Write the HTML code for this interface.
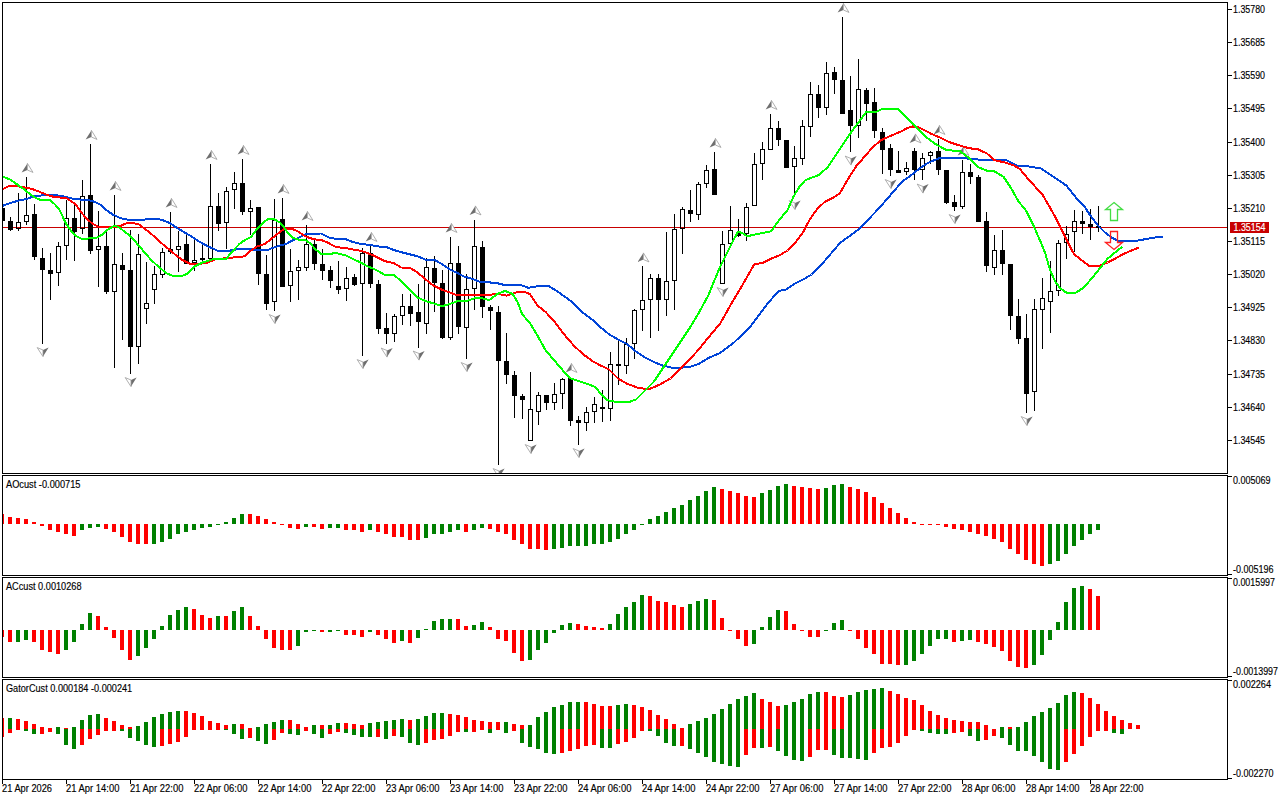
<!DOCTYPE html><html><head><meta charset="utf-8"><style>html,body{margin:0;padding:0;background:#fff;width:1280px;height:800px;overflow:hidden}svg{position:absolute;left:0;top:0}text{font-family:"Liberation Sans",sans-serif;font-size:10px;stroke-width:0.15px}</style></head><body>
<svg width="1280" height="800" viewBox="0 0 1280 800">
<rect x="0" y="0" width="1280" height="800" fill="#fff"/>
<defs><clipPath id="cm"><rect x="3" y="3" width="1224" height="470"/></clipPath><clipPath id="ca"><rect x="3" y="476" width="1224" height="99"/></clipPath><clipPath id="cc"><rect x="3" y="578" width="1224" height="99"/></clipPath><clipPath id="cg"><rect x="3" y="680" width="1224" height="99"/></clipPath></defs>
<g clip-path="url(#cm)">
<rect x="3" y="227" width="1224" height="1" fill="#C80000"/>
<g shape-rendering="crispEdges">
<rect x="2" y="200" width="1" height="8" fill="#000"/>
<rect x="2" y="221" width="1" height="4" fill="#000"/>
<rect x="0" y="208" width="5" height="13" fill="#000"/>
<rect x="10" y="217" width="1" height="4" fill="#000"/>
<rect x="10" y="230" width="1" height="1" fill="#000"/>
<rect x="8" y="221" width="5" height="9" fill="#000"/>
<rect x="18" y="193" width="1" height="29" fill="#000"/>
<rect x="18" y="229" width="1" height="2" fill="#000"/>
<rect x="16" y="222" width="5" height="1" fill="#000"/>
<rect x="16" y="228" width="5" height="1" fill="#000"/>
<rect x="16" y="222" width="1" height="7" fill="#000"/>
<rect x="20" y="222" width="1" height="7" fill="#000"/>
<rect x="26" y="177" width="1" height="38" fill="#000"/>
<rect x="26" y="222" width="1" height="3" fill="#000"/>
<rect x="24" y="215" width="5" height="1" fill="#000"/>
<rect x="24" y="221" width="5" height="1" fill="#000"/>
<rect x="24" y="215" width="1" height="7" fill="#000"/>
<rect x="28" y="215" width="1" height="7" fill="#000"/>
<rect x="34" y="204" width="1" height="10" fill="#000"/>
<rect x="34" y="257" width="1" height="3" fill="#000"/>
<rect x="32" y="214" width="5" height="43" fill="#000"/>
<rect x="42" y="248" width="1" height="10" fill="#000"/>
<rect x="42" y="270" width="1" height="74" fill="#000"/>
<rect x="40" y="258" width="5" height="12" fill="#000"/>
<rect x="50" y="253" width="1" height="17" fill="#000"/>
<rect x="50" y="274" width="1" height="26" fill="#000"/>
<rect x="48" y="270" width="5" height="4" fill="#000"/>
<rect x="58" y="242" width="1" height="4" fill="#000"/>
<rect x="58" y="273" width="1" height="13" fill="#000"/>
<rect x="56" y="246" width="5" height="1" fill="#000"/>
<rect x="56" y="272" width="5" height="1" fill="#000"/>
<rect x="56" y="246" width="1" height="27" fill="#000"/>
<rect x="60" y="246" width="1" height="27" fill="#000"/>
<rect x="66" y="200" width="1" height="18" fill="#000"/>
<rect x="66" y="246" width="1" height="14" fill="#000"/>
<rect x="64" y="218" width="5" height="1" fill="#000"/>
<rect x="64" y="245" width="5" height="1" fill="#000"/>
<rect x="64" y="218" width="1" height="28" fill="#000"/>
<rect x="68" y="218" width="1" height="28" fill="#000"/>
<rect x="74" y="204" width="1" height="14" fill="#000"/>
<rect x="74" y="232" width="1" height="29" fill="#000"/>
<rect x="72" y="218" width="5" height="14" fill="#000"/>
<rect x="82" y="180" width="1" height="16" fill="#000"/>
<rect x="82" y="229" width="1" height="5" fill="#000"/>
<rect x="80" y="196" width="5" height="1" fill="#000"/>
<rect x="80" y="228" width="5" height="1" fill="#000"/>
<rect x="80" y="196" width="1" height="33" fill="#000"/>
<rect x="84" y="196" width="1" height="33" fill="#000"/>
<rect x="90" y="144" width="1" height="51" fill="#000"/>
<rect x="90" y="251" width="1" height="3" fill="#000"/>
<rect x="88" y="195" width="5" height="56" fill="#000"/>
<rect x="98" y="211" width="1" height="35" fill="#000"/>
<rect x="98" y="250" width="1" height="37" fill="#000"/>
<rect x="96" y="246" width="5" height="1" fill="#000"/>
<rect x="96" y="249" width="5" height="1" fill="#000"/>
<rect x="96" y="246" width="1" height="4" fill="#000"/>
<rect x="100" y="246" width="1" height="4" fill="#000"/>
<rect x="106" y="232" width="1" height="14" fill="#000"/>
<rect x="106" y="292" width="1" height="2" fill="#000"/>
<rect x="104" y="246" width="5" height="46" fill="#000"/>
<rect x="114" y="195" width="1" height="69" fill="#000"/>
<rect x="114" y="292" width="1" height="76" fill="#000"/>
<rect x="112" y="264" width="5" height="1" fill="#000"/>
<rect x="112" y="291" width="5" height="1" fill="#000"/>
<rect x="112" y="264" width="1" height="28" fill="#000"/>
<rect x="116" y="264" width="1" height="28" fill="#000"/>
<rect x="122" y="253" width="1" height="12" fill="#000"/>
<rect x="122" y="270" width="1" height="70" fill="#000"/>
<rect x="120" y="265" width="5" height="5" fill="#000"/>
<rect x="130" y="230" width="1" height="40" fill="#000"/>
<rect x="130" y="347" width="1" height="27" fill="#000"/>
<rect x="128" y="270" width="5" height="77" fill="#000"/>
<rect x="138" y="234" width="1" height="20" fill="#000"/>
<rect x="138" y="347" width="1" height="17" fill="#000"/>
<rect x="136" y="254" width="5" height="1" fill="#000"/>
<rect x="136" y="346" width="5" height="1" fill="#000"/>
<rect x="136" y="254" width="1" height="93" fill="#000"/>
<rect x="140" y="254" width="1" height="93" fill="#000"/>
<rect x="146" y="262" width="1" height="41" fill="#000"/>
<rect x="146" y="309" width="1" height="15" fill="#000"/>
<rect x="144" y="303" width="5" height="1" fill="#000"/>
<rect x="144" y="308" width="5" height="1" fill="#000"/>
<rect x="144" y="303" width="1" height="6" fill="#000"/>
<rect x="148" y="303" width="1" height="6" fill="#000"/>
<rect x="154" y="266" width="1" height="8" fill="#000"/>
<rect x="154" y="290" width="1" height="14" fill="#000"/>
<rect x="152" y="274" width="5" height="1" fill="#000"/>
<rect x="152" y="289" width="5" height="1" fill="#000"/>
<rect x="152" y="274" width="1" height="16" fill="#000"/>
<rect x="156" y="274" width="1" height="16" fill="#000"/>
<rect x="162" y="248" width="1" height="4" fill="#000"/>
<rect x="162" y="275" width="1" height="3" fill="#000"/>
<rect x="160" y="252" width="5" height="1" fill="#000"/>
<rect x="160" y="274" width="5" height="1" fill="#000"/>
<rect x="160" y="252" width="1" height="23" fill="#000"/>
<rect x="164" y="252" width="1" height="23" fill="#000"/>
<rect x="170" y="212" width="1" height="37" fill="#000"/>
<rect x="170" y="252" width="1" height="2" fill="#000"/>
<rect x="168" y="249" width="5" height="1" fill="#000"/>
<rect x="168" y="251" width="5" height="1" fill="#000"/>
<rect x="168" y="249" width="1" height="3" fill="#000"/>
<rect x="172" y="249" width="1" height="3" fill="#000"/>
<rect x="178" y="231" width="1" height="15" fill="#000"/>
<rect x="178" y="250" width="1" height="22" fill="#000"/>
<rect x="176" y="246" width="5" height="1" fill="#000"/>
<rect x="176" y="249" width="5" height="1" fill="#000"/>
<rect x="176" y="246" width="1" height="4" fill="#000"/>
<rect x="180" y="246" width="1" height="4" fill="#000"/>
<rect x="186" y="235" width="1" height="9" fill="#000"/>
<rect x="184" y="244" width="5" height="20" fill="#000"/>
<rect x="194" y="240" width="1" height="20" fill="#000"/>
<rect x="194" y="263" width="1" height="8" fill="#000"/>
<rect x="192" y="260" width="5" height="1" fill="#000"/>
<rect x="192" y="262" width="5" height="1" fill="#000"/>
<rect x="192" y="260" width="1" height="3" fill="#000"/>
<rect x="196" y="260" width="1" height="3" fill="#000"/>
<rect x="202" y="245" width="1" height="13" fill="#000"/>
<rect x="202" y="260" width="1" height="2" fill="#000"/>
<rect x="200" y="258" width="5" height="2" fill="#000"/>
<rect x="210" y="164" width="1" height="42" fill="#000"/>
<rect x="210" y="259" width="1" height="3" fill="#000"/>
<rect x="208" y="206" width="5" height="1" fill="#000"/>
<rect x="208" y="258" width="5" height="1" fill="#000"/>
<rect x="208" y="206" width="1" height="53" fill="#000"/>
<rect x="212" y="206" width="1" height="53" fill="#000"/>
<rect x="218" y="193" width="1" height="13" fill="#000"/>
<rect x="218" y="224" width="1" height="7" fill="#000"/>
<rect x="216" y="206" width="5" height="18" fill="#000"/>
<rect x="226" y="187" width="1" height="4" fill="#000"/>
<rect x="226" y="223" width="1" height="26" fill="#000"/>
<rect x="224" y="191" width="5" height="1" fill="#000"/>
<rect x="224" y="222" width="5" height="1" fill="#000"/>
<rect x="224" y="191" width="1" height="32" fill="#000"/>
<rect x="228" y="191" width="1" height="32" fill="#000"/>
<rect x="234" y="172" width="1" height="11" fill="#000"/>
<rect x="234" y="190" width="1" height="19" fill="#000"/>
<rect x="232" y="183" width="5" height="1" fill="#000"/>
<rect x="232" y="189" width="5" height="1" fill="#000"/>
<rect x="232" y="183" width="1" height="7" fill="#000"/>
<rect x="236" y="183" width="1" height="7" fill="#000"/>
<rect x="242" y="159" width="1" height="24" fill="#000"/>
<rect x="242" y="212" width="1" height="3" fill="#000"/>
<rect x="240" y="183" width="5" height="29" fill="#000"/>
<rect x="250" y="200" width="1" height="8" fill="#000"/>
<rect x="250" y="212" width="1" height="23" fill="#000"/>
<rect x="248" y="208" width="5" height="1" fill="#000"/>
<rect x="248" y="211" width="5" height="1" fill="#000"/>
<rect x="248" y="208" width="1" height="4" fill="#000"/>
<rect x="252" y="208" width="1" height="4" fill="#000"/>
<rect x="258" y="274" width="1" height="11" fill="#000"/>
<rect x="256" y="207" width="5" height="67" fill="#000"/>
<rect x="266" y="255" width="1" height="19" fill="#000"/>
<rect x="266" y="304" width="1" height="6" fill="#000"/>
<rect x="264" y="274" width="5" height="30" fill="#000"/>
<rect x="274" y="199" width="1" height="21" fill="#000"/>
<rect x="274" y="302" width="1" height="9" fill="#000"/>
<rect x="272" y="220" width="5" height="1" fill="#000"/>
<rect x="272" y="301" width="5" height="1" fill="#000"/>
<rect x="272" y="220" width="1" height="82" fill="#000"/>
<rect x="276" y="220" width="1" height="82" fill="#000"/>
<rect x="282" y="198" width="1" height="21" fill="#000"/>
<rect x="280" y="219" width="5" height="68" fill="#000"/>
<rect x="290" y="249" width="1" height="22" fill="#000"/>
<rect x="290" y="286" width="1" height="16" fill="#000"/>
<rect x="288" y="271" width="5" height="1" fill="#000"/>
<rect x="288" y="285" width="5" height="1" fill="#000"/>
<rect x="288" y="271" width="1" height="15" fill="#000"/>
<rect x="292" y="271" width="1" height="15" fill="#000"/>
<rect x="298" y="260" width="1" height="7" fill="#000"/>
<rect x="298" y="271" width="1" height="29" fill="#000"/>
<rect x="296" y="267" width="5" height="1" fill="#000"/>
<rect x="296" y="270" width="5" height="1" fill="#000"/>
<rect x="296" y="267" width="1" height="4" fill="#000"/>
<rect x="300" y="267" width="1" height="4" fill="#000"/>
<rect x="306" y="225" width="1" height="19" fill="#000"/>
<rect x="306" y="268" width="1" height="3" fill="#000"/>
<rect x="304" y="244" width="5" height="1" fill="#000"/>
<rect x="304" y="267" width="5" height="1" fill="#000"/>
<rect x="304" y="244" width="1" height="24" fill="#000"/>
<rect x="308" y="244" width="1" height="24" fill="#000"/>
<rect x="314" y="240" width="1" height="4" fill="#000"/>
<rect x="314" y="264" width="1" height="6" fill="#000"/>
<rect x="312" y="244" width="5" height="20" fill="#000"/>
<rect x="322" y="249" width="1" height="15" fill="#000"/>
<rect x="322" y="271" width="1" height="9" fill="#000"/>
<rect x="320" y="264" width="5" height="7" fill="#000"/>
<rect x="330" y="266" width="1" height="4" fill="#000"/>
<rect x="330" y="281" width="1" height="7" fill="#000"/>
<rect x="328" y="270" width="5" height="11" fill="#000"/>
<rect x="338" y="261" width="1" height="25" fill="#000"/>
<rect x="338" y="290" width="1" height="4" fill="#000"/>
<rect x="336" y="286" width="5" height="4" fill="#000"/>
<rect x="346" y="267" width="1" height="11" fill="#000"/>
<rect x="346" y="289" width="1" height="12" fill="#000"/>
<rect x="344" y="278" width="5" height="1" fill="#000"/>
<rect x="344" y="288" width="5" height="1" fill="#000"/>
<rect x="344" y="278" width="1" height="11" fill="#000"/>
<rect x="348" y="278" width="1" height="11" fill="#000"/>
<rect x="354" y="274" width="1" height="3" fill="#000"/>
<rect x="354" y="285" width="1" height="1" fill="#000"/>
<rect x="352" y="277" width="5" height="8" fill="#000"/>
<rect x="362" y="248" width="1" height="5" fill="#000"/>
<rect x="362" y="284" width="1" height="72" fill="#000"/>
<rect x="360" y="253" width="5" height="1" fill="#000"/>
<rect x="360" y="283" width="5" height="1" fill="#000"/>
<rect x="360" y="253" width="1" height="31" fill="#000"/>
<rect x="364" y="253" width="1" height="31" fill="#000"/>
<rect x="370" y="246" width="1" height="7" fill="#000"/>
<rect x="370" y="284" width="1" height="4" fill="#000"/>
<rect x="368" y="253" width="5" height="31" fill="#000"/>
<rect x="378" y="280" width="1" height="4" fill="#000"/>
<rect x="378" y="329" width="1" height="5" fill="#000"/>
<rect x="376" y="284" width="5" height="45" fill="#000"/>
<rect x="386" y="313" width="1" height="15" fill="#000"/>
<rect x="386" y="334" width="1" height="10" fill="#000"/>
<rect x="384" y="328" width="5" height="6" fill="#000"/>
<rect x="394" y="314" width="1" height="2" fill="#000"/>
<rect x="394" y="334" width="1" height="8" fill="#000"/>
<rect x="392" y="316" width="5" height="1" fill="#000"/>
<rect x="392" y="333" width="5" height="1" fill="#000"/>
<rect x="392" y="316" width="1" height="18" fill="#000"/>
<rect x="396" y="316" width="1" height="18" fill="#000"/>
<rect x="402" y="294" width="1" height="12" fill="#000"/>
<rect x="402" y="316" width="1" height="9" fill="#000"/>
<rect x="400" y="306" width="5" height="1" fill="#000"/>
<rect x="400" y="315" width="5" height="1" fill="#000"/>
<rect x="400" y="306" width="1" height="10" fill="#000"/>
<rect x="404" y="306" width="1" height="10" fill="#000"/>
<rect x="410" y="294" width="1" height="12" fill="#000"/>
<rect x="410" y="314" width="1" height="12" fill="#000"/>
<rect x="408" y="306" width="5" height="8" fill="#000"/>
<rect x="418" y="284" width="1" height="28" fill="#000"/>
<rect x="418" y="322" width="1" height="26" fill="#000"/>
<rect x="416" y="312" width="5" height="10" fill="#000"/>
<rect x="426" y="258" width="1" height="9" fill="#000"/>
<rect x="426" y="324" width="1" height="10" fill="#000"/>
<rect x="424" y="267" width="5" height="1" fill="#000"/>
<rect x="424" y="323" width="5" height="1" fill="#000"/>
<rect x="424" y="267" width="1" height="57" fill="#000"/>
<rect x="428" y="267" width="1" height="57" fill="#000"/>
<rect x="434" y="256" width="1" height="12" fill="#000"/>
<rect x="434" y="283" width="1" height="29" fill="#000"/>
<rect x="432" y="268" width="5" height="15" fill="#000"/>
<rect x="442" y="270" width="1" height="13" fill="#000"/>
<rect x="442" y="338" width="1" height="1" fill="#000"/>
<rect x="440" y="283" width="5" height="55" fill="#000"/>
<rect x="450" y="237" width="1" height="26" fill="#000"/>
<rect x="450" y="338" width="1" height="2" fill="#000"/>
<rect x="448" y="263" width="5" height="1" fill="#000"/>
<rect x="448" y="337" width="5" height="1" fill="#000"/>
<rect x="448" y="263" width="1" height="75" fill="#000"/>
<rect x="452" y="263" width="1" height="75" fill="#000"/>
<rect x="458" y="246" width="1" height="17" fill="#000"/>
<rect x="458" y="327" width="1" height="7" fill="#000"/>
<rect x="456" y="263" width="5" height="64" fill="#000"/>
<rect x="466" y="274" width="1" height="15" fill="#000"/>
<rect x="466" y="328" width="1" height="31" fill="#000"/>
<rect x="464" y="289" width="5" height="1" fill="#000"/>
<rect x="464" y="327" width="5" height="1" fill="#000"/>
<rect x="464" y="289" width="1" height="39" fill="#000"/>
<rect x="468" y="289" width="1" height="39" fill="#000"/>
<rect x="474" y="220" width="1" height="26" fill="#000"/>
<rect x="474" y="289" width="1" height="21" fill="#000"/>
<rect x="472" y="246" width="5" height="1" fill="#000"/>
<rect x="472" y="288" width="5" height="1" fill="#000"/>
<rect x="472" y="246" width="1" height="43" fill="#000"/>
<rect x="476" y="246" width="1" height="43" fill="#000"/>
<rect x="482" y="241" width="1" height="6" fill="#000"/>
<rect x="482" y="307" width="1" height="11" fill="#000"/>
<rect x="480" y="247" width="5" height="60" fill="#000"/>
<rect x="490" y="305" width="1" height="2" fill="#000"/>
<rect x="490" y="311" width="1" height="19" fill="#000"/>
<rect x="488" y="307" width="5" height="4" fill="#000"/>
<rect x="498" y="306" width="1" height="6" fill="#000"/>
<rect x="498" y="361" width="1" height="104" fill="#000"/>
<rect x="496" y="312" width="5" height="49" fill="#000"/>
<rect x="506" y="333" width="1" height="28" fill="#000"/>
<rect x="506" y="375" width="1" height="9" fill="#000"/>
<rect x="504" y="361" width="5" height="14" fill="#000"/>
<rect x="514" y="371" width="1" height="4" fill="#000"/>
<rect x="514" y="396" width="1" height="22" fill="#000"/>
<rect x="512" y="375" width="5" height="21" fill="#000"/>
<rect x="522" y="394" width="1" height="2" fill="#000"/>
<rect x="522" y="400" width="1" height="19" fill="#000"/>
<rect x="520" y="396" width="5" height="4" fill="#000"/>
<rect x="530" y="372" width="1" height="37" fill="#000"/>
<rect x="528" y="409" width="5" height="1" fill="#000"/>
<rect x="528" y="440" width="5" height="1" fill="#000"/>
<rect x="528" y="409" width="1" height="32" fill="#000"/>
<rect x="532" y="409" width="1" height="32" fill="#000"/>
<rect x="538" y="392" width="1" height="3" fill="#000"/>
<rect x="538" y="412" width="1" height="13" fill="#000"/>
<rect x="536" y="395" width="5" height="1" fill="#000"/>
<rect x="536" y="411" width="5" height="1" fill="#000"/>
<rect x="536" y="395" width="1" height="17" fill="#000"/>
<rect x="540" y="395" width="1" height="17" fill="#000"/>
<rect x="546" y="403" width="1" height="7" fill="#000"/>
<rect x="544" y="395" width="5" height="8" fill="#000"/>
<rect x="554" y="383" width="1" height="11" fill="#000"/>
<rect x="554" y="403" width="1" height="7" fill="#000"/>
<rect x="552" y="394" width="5" height="1" fill="#000"/>
<rect x="552" y="402" width="5" height="1" fill="#000"/>
<rect x="552" y="394" width="1" height="9" fill="#000"/>
<rect x="556" y="394" width="1" height="9" fill="#000"/>
<rect x="562" y="378" width="1" height="1" fill="#000"/>
<rect x="562" y="394" width="1" height="15" fill="#000"/>
<rect x="560" y="379" width="5" height="1" fill="#000"/>
<rect x="560" y="393" width="5" height="1" fill="#000"/>
<rect x="560" y="379" width="1" height="15" fill="#000"/>
<rect x="564" y="379" width="1" height="15" fill="#000"/>
<rect x="570" y="377" width="1" height="1" fill="#000"/>
<rect x="570" y="421" width="1" height="5" fill="#000"/>
<rect x="568" y="378" width="5" height="43" fill="#000"/>
<rect x="578" y="416" width="1" height="4" fill="#000"/>
<rect x="578" y="423" width="1" height="22" fill="#000"/>
<rect x="576" y="420" width="5" height="3" fill="#000"/>
<rect x="586" y="407" width="1" height="5" fill="#000"/>
<rect x="586" y="423" width="1" height="8" fill="#000"/>
<rect x="584" y="412" width="5" height="1" fill="#000"/>
<rect x="584" y="422" width="5" height="1" fill="#000"/>
<rect x="584" y="412" width="1" height="11" fill="#000"/>
<rect x="588" y="412" width="1" height="11" fill="#000"/>
<rect x="594" y="397" width="1" height="7" fill="#000"/>
<rect x="594" y="412" width="1" height="11" fill="#000"/>
<rect x="592" y="404" width="5" height="1" fill="#000"/>
<rect x="592" y="411" width="5" height="1" fill="#000"/>
<rect x="592" y="404" width="1" height="8" fill="#000"/>
<rect x="596" y="404" width="1" height="8" fill="#000"/>
<rect x="602" y="390" width="1" height="17" fill="#000"/>
<rect x="602" y="409" width="1" height="13" fill="#000"/>
<rect x="600" y="407" width="5" height="2" fill="#000"/>
<rect x="610" y="352" width="1" height="12" fill="#000"/>
<rect x="610" y="409" width="1" height="12" fill="#000"/>
<rect x="608" y="364" width="5" height="1" fill="#000"/>
<rect x="608" y="408" width="5" height="1" fill="#000"/>
<rect x="608" y="364" width="1" height="45" fill="#000"/>
<rect x="612" y="364" width="1" height="45" fill="#000"/>
<rect x="618" y="340" width="1" height="24" fill="#000"/>
<rect x="618" y="366" width="1" height="19" fill="#000"/>
<rect x="616" y="364" width="5" height="2" fill="#000"/>
<rect x="626" y="338" width="1" height="6" fill="#000"/>
<rect x="626" y="366" width="1" height="8" fill="#000"/>
<rect x="624" y="344" width="5" height="1" fill="#000"/>
<rect x="624" y="365" width="5" height="1" fill="#000"/>
<rect x="624" y="344" width="1" height="22" fill="#000"/>
<rect x="628" y="344" width="1" height="22" fill="#000"/>
<rect x="634" y="309" width="1" height="1" fill="#000"/>
<rect x="634" y="344" width="1" height="15" fill="#000"/>
<rect x="632" y="310" width="5" height="1" fill="#000"/>
<rect x="632" y="343" width="5" height="1" fill="#000"/>
<rect x="632" y="310" width="1" height="34" fill="#000"/>
<rect x="636" y="310" width="1" height="34" fill="#000"/>
<rect x="642" y="266" width="1" height="34" fill="#000"/>
<rect x="642" y="310" width="1" height="21" fill="#000"/>
<rect x="640" y="300" width="5" height="1" fill="#000"/>
<rect x="640" y="309" width="5" height="1" fill="#000"/>
<rect x="640" y="300" width="1" height="10" fill="#000"/>
<rect x="644" y="300" width="1" height="10" fill="#000"/>
<rect x="650" y="274" width="1" height="4" fill="#000"/>
<rect x="650" y="300" width="1" height="38" fill="#000"/>
<rect x="648" y="278" width="5" height="1" fill="#000"/>
<rect x="648" y="299" width="5" height="1" fill="#000"/>
<rect x="648" y="278" width="1" height="22" fill="#000"/>
<rect x="652" y="278" width="1" height="22" fill="#000"/>
<rect x="658" y="274" width="1" height="4" fill="#000"/>
<rect x="658" y="300" width="1" height="31" fill="#000"/>
<rect x="656" y="278" width="5" height="22" fill="#000"/>
<rect x="666" y="232" width="1" height="49" fill="#000"/>
<rect x="666" y="300" width="1" height="16" fill="#000"/>
<rect x="664" y="281" width="5" height="1" fill="#000"/>
<rect x="664" y="299" width="5" height="1" fill="#000"/>
<rect x="664" y="281" width="1" height="19" fill="#000"/>
<rect x="668" y="281" width="1" height="19" fill="#000"/>
<rect x="674" y="214" width="1" height="15" fill="#000"/>
<rect x="674" y="281" width="1" height="29" fill="#000"/>
<rect x="672" y="229" width="5" height="1" fill="#000"/>
<rect x="672" y="280" width="5" height="1" fill="#000"/>
<rect x="672" y="229" width="1" height="52" fill="#000"/>
<rect x="676" y="229" width="1" height="52" fill="#000"/>
<rect x="682" y="207" width="1" height="2" fill="#000"/>
<rect x="682" y="229" width="1" height="25" fill="#000"/>
<rect x="680" y="209" width="5" height="1" fill="#000"/>
<rect x="680" y="228" width="5" height="1" fill="#000"/>
<rect x="680" y="209" width="1" height="20" fill="#000"/>
<rect x="684" y="209" width="1" height="20" fill="#000"/>
<rect x="690" y="190" width="1" height="20" fill="#000"/>
<rect x="690" y="214" width="1" height="8" fill="#000"/>
<rect x="688" y="210" width="5" height="4" fill="#000"/>
<rect x="698" y="182" width="1" height="2" fill="#000"/>
<rect x="698" y="215" width="1" height="5" fill="#000"/>
<rect x="696" y="184" width="5" height="1" fill="#000"/>
<rect x="696" y="214" width="5" height="1" fill="#000"/>
<rect x="696" y="184" width="1" height="31" fill="#000"/>
<rect x="700" y="184" width="1" height="31" fill="#000"/>
<rect x="706" y="165" width="1" height="5" fill="#000"/>
<rect x="706" y="184" width="1" height="4" fill="#000"/>
<rect x="704" y="170" width="5" height="1" fill="#000"/>
<rect x="704" y="183" width="5" height="1" fill="#000"/>
<rect x="704" y="170" width="1" height="14" fill="#000"/>
<rect x="708" y="170" width="1" height="14" fill="#000"/>
<rect x="714" y="152" width="1" height="17" fill="#000"/>
<rect x="712" y="169" width="5" height="26" fill="#000"/>
<rect x="722" y="231" width="1" height="13" fill="#000"/>
<rect x="720" y="244" width="5" height="1" fill="#000"/>
<rect x="720" y="283" width="5" height="1" fill="#000"/>
<rect x="720" y="244" width="1" height="40" fill="#000"/>
<rect x="724" y="244" width="1" height="40" fill="#000"/>
<rect x="730" y="206" width="1" height="24" fill="#000"/>
<rect x="730" y="244" width="1" height="1" fill="#000"/>
<rect x="728" y="230" width="5" height="1" fill="#000"/>
<rect x="728" y="243" width="5" height="1" fill="#000"/>
<rect x="728" y="230" width="1" height="14" fill="#000"/>
<rect x="732" y="230" width="1" height="14" fill="#000"/>
<rect x="738" y="219" width="1" height="13" fill="#000"/>
<rect x="738" y="236" width="1" height="1" fill="#000"/>
<rect x="736" y="232" width="5" height="4" fill="#000"/>
<rect x="746" y="203" width="1" height="4" fill="#000"/>
<rect x="746" y="234" width="1" height="7" fill="#000"/>
<rect x="744" y="207" width="5" height="1" fill="#000"/>
<rect x="744" y="233" width="5" height="1" fill="#000"/>
<rect x="744" y="207" width="1" height="27" fill="#000"/>
<rect x="748" y="207" width="1" height="27" fill="#000"/>
<rect x="754" y="153" width="1" height="11" fill="#000"/>
<rect x="752" y="164" width="5" height="1" fill="#000"/>
<rect x="752" y="205" width="5" height="1" fill="#000"/>
<rect x="752" y="164" width="1" height="42" fill="#000"/>
<rect x="756" y="164" width="1" height="42" fill="#000"/>
<rect x="762" y="142" width="1" height="7" fill="#000"/>
<rect x="762" y="164" width="1" height="16" fill="#000"/>
<rect x="760" y="149" width="5" height="1" fill="#000"/>
<rect x="760" y="163" width="5" height="1" fill="#000"/>
<rect x="760" y="149" width="1" height="15" fill="#000"/>
<rect x="764" y="149" width="1" height="15" fill="#000"/>
<rect x="770" y="114" width="1" height="14" fill="#000"/>
<rect x="768" y="128" width="5" height="1" fill="#000"/>
<rect x="768" y="149" width="5" height="1" fill="#000"/>
<rect x="768" y="128" width="1" height="22" fill="#000"/>
<rect x="772" y="128" width="1" height="22" fill="#000"/>
<rect x="778" y="121" width="1" height="7" fill="#000"/>
<rect x="778" y="140" width="1" height="6" fill="#000"/>
<rect x="776" y="128" width="5" height="12" fill="#000"/>
<rect x="784" y="140" width="5" height="28" fill="#000"/>
<rect x="794" y="146" width="1" height="12" fill="#000"/>
<rect x="794" y="167" width="1" height="30" fill="#000"/>
<rect x="792" y="158" width="5" height="1" fill="#000"/>
<rect x="792" y="166" width="5" height="1" fill="#000"/>
<rect x="792" y="158" width="1" height="9" fill="#000"/>
<rect x="796" y="158" width="1" height="9" fill="#000"/>
<rect x="802" y="120" width="1" height="6" fill="#000"/>
<rect x="802" y="159" width="1" height="6" fill="#000"/>
<rect x="800" y="126" width="5" height="1" fill="#000"/>
<rect x="800" y="158" width="5" height="1" fill="#000"/>
<rect x="800" y="126" width="1" height="33" fill="#000"/>
<rect x="804" y="126" width="1" height="33" fill="#000"/>
<rect x="810" y="82" width="1" height="12" fill="#000"/>
<rect x="810" y="127" width="1" height="10" fill="#000"/>
<rect x="808" y="94" width="5" height="1" fill="#000"/>
<rect x="808" y="126" width="5" height="1" fill="#000"/>
<rect x="808" y="94" width="1" height="33" fill="#000"/>
<rect x="812" y="94" width="1" height="33" fill="#000"/>
<rect x="818" y="85" width="1" height="9" fill="#000"/>
<rect x="818" y="108" width="1" height="10" fill="#000"/>
<rect x="816" y="94" width="5" height="14" fill="#000"/>
<rect x="826" y="62" width="1" height="11" fill="#000"/>
<rect x="826" y="108" width="1" height="7" fill="#000"/>
<rect x="824" y="73" width="5" height="1" fill="#000"/>
<rect x="824" y="107" width="5" height="1" fill="#000"/>
<rect x="824" y="73" width="1" height="35" fill="#000"/>
<rect x="828" y="73" width="1" height="35" fill="#000"/>
<rect x="834" y="67" width="1" height="5" fill="#000"/>
<rect x="834" y="80" width="1" height="14" fill="#000"/>
<rect x="832" y="72" width="5" height="8" fill="#000"/>
<rect x="842" y="17" width="1" height="63" fill="#000"/>
<rect x="840" y="80" width="5" height="34" fill="#000"/>
<rect x="850" y="76" width="1" height="34" fill="#000"/>
<rect x="850" y="126" width="1" height="26" fill="#000"/>
<rect x="848" y="110" width="5" height="16" fill="#000"/>
<rect x="858" y="59" width="1" height="30" fill="#000"/>
<rect x="858" y="126" width="1" height="12" fill="#000"/>
<rect x="856" y="89" width="5" height="1" fill="#000"/>
<rect x="856" y="125" width="5" height="1" fill="#000"/>
<rect x="856" y="89" width="1" height="37" fill="#000"/>
<rect x="860" y="89" width="1" height="37" fill="#000"/>
<rect x="866" y="88" width="1" height="2" fill="#000"/>
<rect x="866" y="104" width="1" height="17" fill="#000"/>
<rect x="864" y="90" width="5" height="14" fill="#000"/>
<rect x="874" y="88" width="1" height="14" fill="#000"/>
<rect x="874" y="131" width="1" height="7" fill="#000"/>
<rect x="872" y="102" width="5" height="29" fill="#000"/>
<rect x="882" y="128" width="1" height="4" fill="#000"/>
<rect x="882" y="150" width="1" height="24" fill="#000"/>
<rect x="880" y="132" width="5" height="18" fill="#000"/>
<rect x="890" y="144" width="1" height="4" fill="#000"/>
<rect x="890" y="170" width="1" height="6" fill="#000"/>
<rect x="888" y="148" width="5" height="22" fill="#000"/>
<rect x="898" y="151" width="1" height="19" fill="#000"/>
<rect x="896" y="170" width="5" height="3" fill="#000"/>
<rect x="906" y="162" width="1" height="6" fill="#000"/>
<rect x="906" y="172" width="1" height="3" fill="#000"/>
<rect x="904" y="168" width="5" height="1" fill="#000"/>
<rect x="904" y="171" width="5" height="1" fill="#000"/>
<rect x="904" y="168" width="1" height="4" fill="#000"/>
<rect x="908" y="168" width="1" height="4" fill="#000"/>
<rect x="914" y="148" width="1" height="3" fill="#000"/>
<rect x="914" y="170" width="1" height="10" fill="#000"/>
<rect x="912" y="151" width="5" height="19" fill="#000"/>
<rect x="922" y="153" width="1" height="5" fill="#000"/>
<rect x="922" y="170" width="1" height="10" fill="#000"/>
<rect x="920" y="158" width="5" height="1" fill="#000"/>
<rect x="920" y="169" width="5" height="1" fill="#000"/>
<rect x="920" y="158" width="1" height="12" fill="#000"/>
<rect x="924" y="158" width="1" height="12" fill="#000"/>
<rect x="930" y="151" width="1" height="1" fill="#000"/>
<rect x="930" y="156" width="1" height="8" fill="#000"/>
<rect x="928" y="152" width="5" height="1" fill="#000"/>
<rect x="928" y="155" width="5" height="1" fill="#000"/>
<rect x="928" y="152" width="1" height="4" fill="#000"/>
<rect x="932" y="152" width="1" height="4" fill="#000"/>
<rect x="938" y="139" width="1" height="12" fill="#000"/>
<rect x="938" y="170" width="1" height="5" fill="#000"/>
<rect x="936" y="151" width="5" height="19" fill="#000"/>
<rect x="946" y="203" width="1" height="1" fill="#000"/>
<rect x="944" y="170" width="5" height="33" fill="#000"/>
<rect x="954" y="195" width="1" height="7" fill="#000"/>
<rect x="954" y="207" width="1" height="4" fill="#000"/>
<rect x="952" y="202" width="5" height="5" fill="#000"/>
<rect x="962" y="160" width="1" height="12" fill="#000"/>
<rect x="962" y="207" width="1" height="2" fill="#000"/>
<rect x="960" y="172" width="5" height="1" fill="#000"/>
<rect x="960" y="206" width="5" height="1" fill="#000"/>
<rect x="960" y="172" width="1" height="35" fill="#000"/>
<rect x="964" y="172" width="1" height="35" fill="#000"/>
<rect x="970" y="164" width="1" height="8" fill="#000"/>
<rect x="970" y="177" width="1" height="7" fill="#000"/>
<rect x="968" y="172" width="5" height="5" fill="#000"/>
<rect x="978" y="175" width="1" height="2" fill="#000"/>
<rect x="976" y="177" width="5" height="45" fill="#000"/>
<rect x="986" y="212" width="1" height="9" fill="#000"/>
<rect x="986" y="266" width="1" height="6" fill="#000"/>
<rect x="984" y="221" width="5" height="45" fill="#000"/>
<rect x="994" y="235" width="1" height="15" fill="#000"/>
<rect x="994" y="268" width="1" height="7" fill="#000"/>
<rect x="992" y="250" width="5" height="1" fill="#000"/>
<rect x="992" y="267" width="5" height="1" fill="#000"/>
<rect x="992" y="250" width="1" height="18" fill="#000"/>
<rect x="996" y="250" width="1" height="18" fill="#000"/>
<rect x="1002" y="230" width="1" height="20" fill="#000"/>
<rect x="1002" y="264" width="1" height="11" fill="#000"/>
<rect x="1000" y="250" width="5" height="14" fill="#000"/>
<rect x="1010" y="316" width="1" height="14" fill="#000"/>
<rect x="1008" y="264" width="5" height="52" fill="#000"/>
<rect x="1018" y="299" width="1" height="17" fill="#000"/>
<rect x="1018" y="339" width="1" height="5" fill="#000"/>
<rect x="1016" y="316" width="5" height="23" fill="#000"/>
<rect x="1026" y="314" width="1" height="24" fill="#000"/>
<rect x="1026" y="394" width="1" height="19" fill="#000"/>
<rect x="1024" y="338" width="5" height="56" fill="#000"/>
<rect x="1034" y="299" width="1" height="10" fill="#000"/>
<rect x="1034" y="392" width="1" height="19" fill="#000"/>
<rect x="1032" y="309" width="5" height="1" fill="#000"/>
<rect x="1032" y="391" width="5" height="1" fill="#000"/>
<rect x="1032" y="309" width="1" height="83" fill="#000"/>
<rect x="1036" y="309" width="1" height="83" fill="#000"/>
<rect x="1042" y="278" width="1" height="20" fill="#000"/>
<rect x="1042" y="310" width="1" height="39" fill="#000"/>
<rect x="1040" y="298" width="5" height="1" fill="#000"/>
<rect x="1040" y="309" width="5" height="1" fill="#000"/>
<rect x="1040" y="298" width="1" height="12" fill="#000"/>
<rect x="1044" y="298" width="1" height="12" fill="#000"/>
<rect x="1050" y="261" width="1" height="30" fill="#000"/>
<rect x="1050" y="302" width="1" height="31" fill="#000"/>
<rect x="1048" y="291" width="5" height="1" fill="#000"/>
<rect x="1048" y="301" width="5" height="1" fill="#000"/>
<rect x="1048" y="291" width="1" height="11" fill="#000"/>
<rect x="1052" y="291" width="1" height="11" fill="#000"/>
<rect x="1058" y="240" width="1" height="3" fill="#000"/>
<rect x="1058" y="291" width="1" height="5" fill="#000"/>
<rect x="1056" y="243" width="5" height="1" fill="#000"/>
<rect x="1056" y="290" width="5" height="1" fill="#000"/>
<rect x="1056" y="243" width="1" height="48" fill="#000"/>
<rect x="1060" y="243" width="1" height="48" fill="#000"/>
<rect x="1066" y="226" width="1" height="8" fill="#000"/>
<rect x="1066" y="243" width="1" height="16" fill="#000"/>
<rect x="1064" y="234" width="5" height="1" fill="#000"/>
<rect x="1064" y="242" width="5" height="1" fill="#000"/>
<rect x="1064" y="234" width="1" height="9" fill="#000"/>
<rect x="1068" y="234" width="1" height="9" fill="#000"/>
<rect x="1074" y="210" width="1" height="11" fill="#000"/>
<rect x="1074" y="232" width="1" height="20" fill="#000"/>
<rect x="1072" y="221" width="5" height="1" fill="#000"/>
<rect x="1072" y="231" width="5" height="1" fill="#000"/>
<rect x="1072" y="221" width="1" height="11" fill="#000"/>
<rect x="1076" y="221" width="1" height="11" fill="#000"/>
<rect x="1082" y="211" width="1" height="10" fill="#000"/>
<rect x="1082" y="224" width="1" height="10" fill="#000"/>
<rect x="1080" y="221" width="5" height="3" fill="#000"/>
<rect x="1090" y="209" width="1" height="15" fill="#000"/>
<rect x="1090" y="227" width="1" height="13" fill="#000"/>
<rect x="1088" y="224" width="5" height="3" fill="#000"/>
<rect x="1098" y="206" width="1" height="20" fill="#000"/>
<rect x="1098" y="228" width="1" height="4" fill="#000"/>
<rect x="1096" y="226" width="5" height="2" fill="#000"/>
</g>
<polygon points="27.4,163.4 21.6,172.4 27.4,170.0" fill="#6e6e6e"/><polygon points="27.4,163.4 33.0,172.4 27.4,170.0" fill="#fff" stroke="#9a9a9a" stroke-width="0.8"/>
<polygon points="91.4,130.4 85.6,139.4 91.4,137.0" fill="#6e6e6e"/><polygon points="91.4,130.4 97.0,139.4 91.4,137.0" fill="#fff" stroke="#9a9a9a" stroke-width="0.8"/>
<polygon points="115.4,181.4 109.6,190.4 115.4,188.0" fill="#6e6e6e"/><polygon points="115.4,181.4 121.0,190.4 115.4,188.0" fill="#fff" stroke="#9a9a9a" stroke-width="0.8"/>
<polygon points="171.4,198.4 165.6,207.4 171.4,205.0" fill="#6e6e6e"/><polygon points="171.4,198.4 177.0,207.4 171.4,205.0" fill="#fff" stroke="#9a9a9a" stroke-width="0.8"/>
<polygon points="211.4,150.4 205.6,159.4 211.4,157.0" fill="#6e6e6e"/><polygon points="211.4,150.4 217.0,159.4 211.4,157.0" fill="#fff" stroke="#9a9a9a" stroke-width="0.8"/>
<polygon points="243.4,145.4 237.6,154.4 243.4,152.0" fill="#6e6e6e"/><polygon points="243.4,145.4 249.0,154.4 243.4,152.0" fill="#fff" stroke="#9a9a9a" stroke-width="0.8"/>
<polygon points="283.4,184.4 277.6,193.4 283.4,191.0" fill="#6e6e6e"/><polygon points="283.4,184.4 289.0,193.4 283.4,191.0" fill="#fff" stroke="#9a9a9a" stroke-width="0.8"/>
<polygon points="307.4,211.4 301.6,220.4 307.4,218.0" fill="#6e6e6e"/><polygon points="307.4,211.4 313.0,220.4 307.4,218.0" fill="#fff" stroke="#9a9a9a" stroke-width="0.8"/>
<polygon points="371.4,232.4 365.6,241.4 371.4,239.0" fill="#6e6e6e"/><polygon points="371.4,232.4 377.0,241.4 371.4,239.0" fill="#fff" stroke="#9a9a9a" stroke-width="0.8"/>
<polygon points="451.4,223.4 445.6,232.4 451.4,230.0" fill="#6e6e6e"/><polygon points="451.4,223.4 457.0,232.4 451.4,230.0" fill="#fff" stroke="#9a9a9a" stroke-width="0.8"/>
<polygon points="475.4,205.9 469.6,214.9 475.4,212.5" fill="#6e6e6e"/><polygon points="475.4,205.9 481.0,214.9 475.4,212.5" fill="#fff" stroke="#9a9a9a" stroke-width="0.8"/>
<polygon points="571.4,363.4 565.6,372.4 571.4,370.0" fill="#6e6e6e"/><polygon points="571.4,363.4 577.0,372.4 571.4,370.0" fill="#fff" stroke="#9a9a9a" stroke-width="0.8"/>
<polygon points="643.4,252.9 637.6,261.9 643.4,259.5" fill="#6e6e6e"/><polygon points="643.4,252.9 649.0,261.9 643.4,259.5" fill="#fff" stroke="#9a9a9a" stroke-width="0.8"/>
<polygon points="715.4,138.4 709.6,147.4 715.4,145.0" fill="#6e6e6e"/><polygon points="715.4,138.4 721.0,147.4 715.4,145.0" fill="#fff" stroke="#9a9a9a" stroke-width="0.8"/>
<polygon points="771.4,100.4 765.6,109.4 771.4,107.0" fill="#6e6e6e"/><polygon points="771.4,100.4 777.0,109.4 771.4,107.0" fill="#fff" stroke="#9a9a9a" stroke-width="0.8"/>
<polygon points="843.4,3.4 837.6,12.4 843.4,10.0" fill="#6e6e6e"/><polygon points="843.4,3.4 849.0,12.4 843.4,10.0" fill="#fff" stroke="#9a9a9a" stroke-width="0.8"/>
<polygon points="915.4,133.9 909.6,142.9 915.4,140.5" fill="#6e6e6e"/><polygon points="915.4,133.9 921.0,142.9 915.4,140.5" fill="#fff" stroke="#9a9a9a" stroke-width="0.8"/>
<polygon points="939.4,125.4 933.6,134.4 939.4,132.0" fill="#6e6e6e"/><polygon points="939.4,125.4 945.0,134.4 939.4,132.0" fill="#fff" stroke="#9a9a9a" stroke-width="0.8"/>
<polygon points="963.4,146.4 957.6,155.4 963.4,153.0" fill="#6e6e6e"/><polygon points="963.4,146.4 969.0,155.4 963.4,153.0" fill="#fff" stroke="#9a9a9a" stroke-width="0.8"/>
<polygon points="43.0,356.6 48.6,347.6 43.0,350.0" fill="#6e6e6e"/><polygon points="43.0,356.6 37.2,347.6 43.0,350.0" fill="#fff" stroke="#9a9a9a" stroke-width="0.8"/>
<polygon points="131.0,386.6 136.6,377.6 131.0,380.0" fill="#6e6e6e"/><polygon points="131.0,386.6 125.2,377.6 131.0,380.0" fill="#fff" stroke="#9a9a9a" stroke-width="0.8"/>
<polygon points="275.0,323.6 280.6,314.6 275.0,317.0" fill="#6e6e6e"/><polygon points="275.0,323.6 269.2,314.6 275.0,317.0" fill="#fff" stroke="#9a9a9a" stroke-width="0.8"/>
<polygon points="363.0,368.6 368.6,359.6 363.0,362.0" fill="#6e6e6e"/><polygon points="363.0,368.6 357.2,359.6 363.0,362.0" fill="#fff" stroke="#9a9a9a" stroke-width="0.8"/>
<polygon points="387.0,357.1 392.6,348.1 387.0,350.5" fill="#6e6e6e"/><polygon points="387.0,357.1 381.2,348.1 387.0,350.5" fill="#fff" stroke="#9a9a9a" stroke-width="0.8"/>
<polygon points="419.0,360.1 424.6,351.1 419.0,353.5" fill="#6e6e6e"/><polygon points="419.0,360.1 413.2,351.1 419.0,353.5" fill="#fff" stroke="#9a9a9a" stroke-width="0.8"/>
<polygon points="467.0,371.6 472.6,362.6 467.0,365.0" fill="#6e6e6e"/><polygon points="467.0,371.6 461.2,362.6 467.0,365.0" fill="#fff" stroke="#9a9a9a" stroke-width="0.8"/>
<polygon points="499.0,477.6 504.6,468.6 499.0,471.0" fill="#6e6e6e"/><polygon points="499.0,477.6 493.2,468.6 499.0,471.0" fill="#fff" stroke="#9a9a9a" stroke-width="0.8"/>
<polygon points="531.0,453.6 536.6,444.6 531.0,447.0" fill="#6e6e6e"/><polygon points="531.0,453.6 525.2,444.6 531.0,447.0" fill="#fff" stroke="#9a9a9a" stroke-width="0.8"/>
<polygon points="579.0,457.6 584.6,448.6 579.0,451.0" fill="#6e6e6e"/><polygon points="579.0,457.6 573.2,448.6 579.0,451.0" fill="#fff" stroke="#9a9a9a" stroke-width="0.8"/>
<polygon points="723.0,296.6 728.6,287.6 723.0,290.0" fill="#6e6e6e"/><polygon points="723.0,296.6 717.2,287.6 723.0,290.0" fill="#fff" stroke="#9a9a9a" stroke-width="0.8"/>
<polygon points="795.0,209.6 800.6,200.6 795.0,203.0" fill="#6e6e6e"/><polygon points="795.0,209.6 789.2,200.6 795.0,203.0" fill="#fff" stroke="#9a9a9a" stroke-width="0.8"/>
<polygon points="851.0,165.1 856.6,156.1 851.0,158.5" fill="#6e6e6e"/><polygon points="851.0,165.1 845.2,156.1 851.0,158.5" fill="#fff" stroke="#9a9a9a" stroke-width="0.8"/>
<polygon points="891.0,188.6 896.6,179.6 891.0,182.0" fill="#6e6e6e"/><polygon points="891.0,188.6 885.2,179.6 891.0,182.0" fill="#fff" stroke="#9a9a9a" stroke-width="0.8"/>
<polygon points="923.0,193.1 928.6,184.1 923.0,186.5" fill="#6e6e6e"/><polygon points="923.0,193.1 917.2,184.1 923.0,186.5" fill="#fff" stroke="#9a9a9a" stroke-width="0.8"/>
<polygon points="955.0,223.6 960.6,214.6 955.0,217.0" fill="#6e6e6e"/><polygon points="955.0,223.6 949.2,214.6 955.0,217.0" fill="#fff" stroke="#9a9a9a" stroke-width="0.8"/>
<polygon points="1027.0,425.6 1032.6,416.6 1027.0,419.0" fill="#6e6e6e"/><polygon points="1027.0,425.6 1021.2,416.6 1027.0,419.0" fill="#fff" stroke="#9a9a9a" stroke-width="0.8"/>
<polyline fill="none" stroke="#0044D8" stroke-width="2" stroke-linejoin="round" shape-rendering="crispEdges" points="3.1,205.6 10.0,203.1 18.8,200.6 27.5,198.8 33.8,196.2 40.0,195.6 47.5,195.0 55.0,195.0 62.5,196.2 70.0,198.1 77.5,199.4 87.5,199.8 95.0,201.9 100.0,204.4 106.2,210.0 112.5,214.4 120.0,218.1 126.2,219.4 132.5,220.2 141.2,220.2 148.8,218.8 157.5,218.8 163.8,220.6 170.0,223.1 176.2,227.5 182.5,231.2 190.0,235.6 197.5,240.6 207.5,246.2 217.5,250.6 230.0,250.6 240.0,248.8 250.0,249.0 255.0,250.0 267.5,250.0 273.8,247.5 280.0,245.6 286.2,243.8 292.5,240.6 298.8,237.5 306.2,233.8 321.2,233.5 330.0,238.1 337.5,238.8 346.2,239.4 352.5,241.9 360.0,243.8 370.0,245.0 378.8,246.5 386.2,246.9 393.8,250.0 401.2,252.2 410.0,254.4 417.5,256.2 426.2,260.0 435.0,260.2 442.5,264.4 450.0,269.4 457.5,273.1 465.0,276.9 472.5,278.8 480.0,281.9 495.6,282.8 503.4,284.7 520.6,285.0 528.4,287.8 539.4,285.9 548.8,286.2 556.6,290.9 564.4,296.4 573.8,303.4 583.1,312.8 592.5,319.8 600.0,326.9 609.0,334.2 618.0,339.5 627.0,344.0 636.0,351.5 645.0,357.5 654.0,362.0 663.0,365.7 672.0,367.7 681.0,367.7 690.0,366.8 699.0,363.8 708.0,358.2 720.0,353.0 734.3,342.2 750.0,327.1 765.8,305.8 778.5,291.0 786.0,289.5 795.0,283.5 804.0,279.0 811.5,274.5 822.0,264.0 831.0,253.5 840.0,243.0 859.4,228.8 880.0,207.2 893.8,191.2 902.5,181.2 910.0,176.2 917.5,170.0 927.5,163.1 940.0,157.8 960.0,157.8 978.0,159.5 1005.0,159.5 1017.0,165.5 1027.5,166.2 1041.0,168.5 1050.0,174.5 1059.0,180.5 1066.5,185.7 1078.8,201.2 1083.8,205.6 1090.0,215.0 1097.5,225.0 1105.0,232.5 1112.5,238.1 1117.5,240.6 1127.5,240.6 1137.5,240.6 1146.2,239.0 1155.0,237.5 1163.1,236.9"/>
<polyline fill="none" stroke="#FF0000" stroke-width="2" stroke-linejoin="round" shape-rendering="crispEdges" points="3.1,188.8 8.8,186.2 15.0,185.6 21.2,186.9 28.8,188.1 35.0,190.0 41.2,192.5 47.5,195.0 53.8,196.9 60.0,197.5 66.2,198.1 71.2,201.2 76.2,205.0 81.2,212.5 87.5,219.4 92.5,223.8 98.8,226.9 106.2,227.5 112.5,226.9 120.0,226.2 125.0,223.8 131.2,222.5 138.8,224.4 145.0,228.8 152.5,235.0 160.0,241.9 167.5,248.1 175.0,254.4 182.5,260.0 190.0,263.8 197.5,264.4 207.5,262.5 215.0,259.4 226.2,258.1 240.0,256.9 245.0,256.2 250.0,251.2 256.2,246.9 265.0,243.8 270.0,240.0 276.2,235.0 282.5,230.0 286.2,228.5 292.5,229.0 298.8,231.9 305.0,236.2 310.0,238.1 315.0,239.4 321.2,240.0 327.5,242.5 336.2,247.2 346.2,248.1 352.5,249.4 360.0,250.6 367.5,253.1 375.0,256.2 385.0,261.2 393.8,263.1 401.2,267.5 410.0,267.8 417.5,272.5 425.0,278.8 432.5,285.0 441.2,289.4 450.0,292.5 456.2,295.0 466.2,295.0 480.0,295.0 489.4,294.8 497.2,293.8 506.6,295.6 515.9,292.5 523.8,291.7 530.0,294.1 537.8,305.8 545.6,312.0 555.0,322.2 564.4,334.7 573.8,345.6 583.1,354.2 592.5,361.2 600.0,365.2 609.0,369.5 618.0,378.5 627.0,383.7 639.0,388.2 649.5,389.0 660.0,384.5 670.5,378.5 679.5,369.5 690.0,359.0 699.0,349.2 708.0,338.0 720.0,323.7 733.5,300.0 742.5,285.0 748.5,274.5 754.5,264.0 762.0,263.2 771.0,258.7 780.0,255.0 787.5,250.5 795.0,243.0 802.5,233.2 810.0,219.0 817.5,208.5 825.0,201.7 834.0,197.2 840.0,193.1 847.5,180.0 856.2,166.2 865.0,156.2 872.5,147.5 881.2,140.0 890.0,136.2 900.0,131.9 907.5,128.1 912.5,126.5 917.5,126.9 925.0,130.6 932.5,134.4 940.0,137.5 948.8,141.9 960.0,145.6 969.0,148.2 978.0,149.3 987.0,153.5 994.5,160.2 1005.0,162.5 1014.0,165.5 1020.0,169.2 1027.5,178.2 1035.0,186.5 1042.5,194.7 1050.0,207.5 1056.2,218.8 1061.2,228.8 1066.2,238.8 1071.2,248.8 1073.8,253.8 1081.2,260.0 1088.8,265.6 1100.0,265.6 1107.5,262.5 1115.0,258.8 1122.5,254.4 1130.0,251.2 1138.8,247.5"/>
<polyline fill="none" stroke="#00FF00" stroke-width="2" stroke-linejoin="round" shape-rendering="crispEdges" points="3.1,176.9 10.0,179.4 16.2,183.8 22.5,188.1 28.8,193.1 33.8,196.9 40.0,199.8 50.0,200.0 55.0,204.4 58.8,208.8 62.5,216.2 66.2,223.8 71.2,231.2 76.2,236.2 82.5,239.4 90.0,238.1 97.5,237.5 102.5,234.4 108.8,228.8 115.0,225.6 120.0,228.1 127.5,233.8 135.0,241.2 142.5,250.0 151.2,260.0 160.0,268.1 167.5,273.8 175.0,276.5 182.5,275.6 187.5,273.8 195.0,266.2 202.5,262.5 212.5,259.4 226.2,258.8 232.5,251.2 240.0,243.4 245.0,240.0 251.2,236.9 256.2,230.0 261.2,224.4 267.5,219.4 273.8,219.0 280.0,222.5 283.8,226.9 287.5,232.5 292.5,237.5 298.8,239.8 305.0,240.0 310.0,243.1 315.0,248.8 321.2,254.0 330.0,253.8 336.2,253.1 346.2,255.6 352.5,258.8 360.0,262.2 367.5,266.2 376.2,270.0 385.0,275.0 393.8,274.8 401.2,281.2 408.8,288.8 417.5,297.5 426.2,301.2 435.0,303.8 442.5,306.2 450.0,303.8 457.5,301.2 467.5,300.6 475.0,298.1 480.0,297.9 489.4,300.0 497.2,294.1 505.0,290.9 512.8,294.1 517.5,301.9 522.2,314.4 530.0,323.0 537.8,336.2 545.6,350.3 555.0,361.2 564.4,372.2 570.6,378.4 580.0,381.6 589.4,384.7 595.6,387.0 600.0,393.0 607.5,400.2 619.5,402.5 630.0,401.7 636.0,399.5 645.0,390.5 654.0,381.5 663.0,368.0 672.0,354.5 681.0,341.0 690.0,327.5 699.0,312.5 708.0,296.0 720.0,267.0 727.5,252.0 733.5,240.0 738.0,231.7 742.5,233.2 747.0,236.2 754.5,234.7 763.5,232.8 771.0,231.3 780.0,219.0 787.5,210.0 793.5,196.5 799.5,186.7 805.5,180.0 819.0,175.0 828.0,166.9 840.0,148.8 847.5,137.5 855.0,126.9 861.2,118.8 866.2,111.9 876.2,111.9 882.5,108.8 897.5,108.8 903.8,114.4 910.0,121.2 916.2,127.5 925.0,136.2 935.0,143.8 946.2,150.0 960.0,151.2 969.0,158.0 978.0,167.0 987.0,170.7 994.5,171.5 1003.5,176.7 1011.0,188.0 1018.5,201.5 1026.0,210.5 1033.5,225.5 1040.5,241.6 1045.0,252.5 1050.0,270.0 1055.0,281.2 1060.0,288.1 1066.2,292.5 1076.2,292.5 1083.8,287.5 1092.5,277.5 1100.0,268.1 1107.5,258.8 1115.0,252.5 1122.5,246.5"/>
<polygon points="1114,202.5 1122.5,209.5 1117.5,209.5 1117.5,220.5 1110.5,220.5 1110.5,209.5 1105.5,209.5" fill="none" stroke="#44DD44" stroke-width="1.3"/>
<polygon points="1114,249.5 1122.5,242.5 1117.5,242.5 1117.5,231.5 1110.5,231.5 1110.5,242.5 1105.5,242.5" fill="none" stroke="#FF2020" stroke-width="1.3"/>
</g>
<g shape-rendering="crispEdges">
<g clip-path="url(#ca)">
<rect x="0" y="514" width="4" height="10" fill="#FF0000"/>
<rect x="8" y="517" width="4" height="7" fill="#FF0000"/>
<rect x="16" y="518" width="4" height="6" fill="#FF0000"/>
<rect x="24" y="519" width="4" height="5" fill="#FF0000"/>
<rect x="32" y="522" width="4" height="2" fill="#FF0000"/>
<rect x="40" y="524" width="4" height="2" fill="#FF0000"/>
<rect x="48" y="524" width="4" height="6" fill="#FF0000"/>
<rect x="56" y="524" width="4" height="8" fill="#FF0000"/>
<rect x="64" y="524" width="4" height="10" fill="#FF0000"/>
<rect x="72" y="524" width="4" height="12" fill="#FF0000"/>
<rect x="80" y="524" width="4" height="6" fill="#008000"/>
<rect x="88" y="524" width="4" height="4" fill="#008000"/>
<rect x="96" y="524" width="4" height="3" fill="#008000"/>
<rect x="104" y="524" width="4" height="5" fill="#FF0000"/>
<rect x="112" y="524" width="4" height="8" fill="#FF0000"/>
<rect x="120" y="524" width="4" height="13" fill="#FF0000"/>
<rect x="128" y="524" width="4" height="18" fill="#FF0000"/>
<rect x="136" y="524" width="4" height="20" fill="#FF0000"/>
<rect x="144" y="524" width="4" height="20" fill="#FF0000"/>
<rect x="152" y="524" width="4" height="20" fill="#008000"/>
<rect x="160" y="524" width="4" height="18" fill="#008000"/>
<rect x="168" y="524" width="4" height="15" fill="#008000"/>
<rect x="176" y="524" width="4" height="10" fill="#008000"/>
<rect x="184" y="524" width="4" height="8" fill="#008000"/>
<rect x="192" y="524" width="4" height="6" fill="#008000"/>
<rect x="200" y="524" width="4" height="4" fill="#008000"/>
<rect x="208" y="524" width="4" height="3" fill="#008000"/>
<rect x="216" y="524" width="4" height="1" fill="#008000"/>
<rect x="224" y="522" width="4" height="2" fill="#008000"/>
<rect x="232" y="518" width="4" height="6" fill="#008000"/>
<rect x="240" y="514" width="4" height="10" fill="#008000"/>
<rect x="248" y="514" width="4" height="10" fill="#FF0000"/>
<rect x="256" y="516" width="4" height="8" fill="#FF0000"/>
<rect x="264" y="519" width="4" height="5" fill="#FF0000"/>
<rect x="272" y="522" width="4" height="2" fill="#FF0000"/>
<rect x="280" y="524" width="4" height="1" fill="#FF0000"/>
<rect x="288" y="524" width="4" height="4" fill="#FF0000"/>
<rect x="296" y="524" width="4" height="5" fill="#FF0000"/>
<rect x="304" y="524" width="4" height="3" fill="#008000"/>
<rect x="312" y="524" width="4" height="3" fill="#FF0000"/>
<rect x="320" y="524" width="4" height="5" fill="#FF0000"/>
<rect x="328" y="524" width="4" height="4" fill="#008000"/>
<rect x="336" y="524" width="4" height="4" fill="#008000"/>
<rect x="344" y="524" width="4" height="6" fill="#FF0000"/>
<rect x="352" y="524" width="4" height="6" fill="#FF0000"/>
<rect x="360" y="524" width="4" height="8" fill="#FF0000"/>
<rect x="368" y="524" width="4" height="6" fill="#008000"/>
<rect x="376" y="524" width="4" height="8" fill="#FF0000"/>
<rect x="384" y="524" width="4" height="10" fill="#FF0000"/>
<rect x="392" y="524" width="4" height="13" fill="#FF0000"/>
<rect x="400" y="524" width="4" height="13" fill="#FF0000"/>
<rect x="408" y="524" width="4" height="16" fill="#FF0000"/>
<rect x="416" y="524" width="4" height="16" fill="#FF0000"/>
<rect x="424" y="524" width="4" height="14" fill="#008000"/>
<rect x="432" y="524" width="4" height="10" fill="#008000"/>
<rect x="440" y="524" width="4" height="10" fill="#008000"/>
<rect x="448" y="524" width="4" height="8" fill="#008000"/>
<rect x="456" y="524" width="4" height="6" fill="#008000"/>
<rect x="464" y="524" width="4" height="8" fill="#FF0000"/>
<rect x="472" y="524" width="4" height="6" fill="#008000"/>
<rect x="480" y="524" width="4" height="4" fill="#008000"/>
<rect x="488" y="524" width="4" height="5" fill="#FF0000"/>
<rect x="496" y="524" width="4" height="8" fill="#FF0000"/>
<rect x="504" y="524" width="4" height="10" fill="#FF0000"/>
<rect x="512" y="524" width="4" height="16" fill="#FF0000"/>
<rect x="520" y="524" width="4" height="20" fill="#FF0000"/>
<rect x="528" y="524" width="4" height="25" fill="#FF0000"/>
<rect x="536" y="524" width="4" height="25" fill="#FF0000"/>
<rect x="544" y="524" width="4" height="26" fill="#FF0000"/>
<rect x="552" y="524" width="4" height="25" fill="#008000"/>
<rect x="560" y="524" width="4" height="24" fill="#008000"/>
<rect x="568" y="524" width="4" height="22" fill="#008000"/>
<rect x="576" y="524" width="4" height="22" fill="#008000"/>
<rect x="584" y="524" width="4" height="22" fill="#008000"/>
<rect x="592" y="524" width="4" height="20" fill="#008000"/>
<rect x="600" y="524" width="4" height="20" fill="#008000"/>
<rect x="608" y="524" width="4" height="18" fill="#008000"/>
<rect x="616" y="524" width="4" height="15" fill="#008000"/>
<rect x="624" y="524" width="4" height="10" fill="#008000"/>
<rect x="632" y="524" width="4" height="6" fill="#008000"/>
<rect x="640" y="524" width="4" height="1" fill="#008000"/>
<rect x="648" y="519" width="4" height="5" fill="#008000"/>
<rect x="656" y="516" width="4" height="8" fill="#008000"/>
<rect x="664" y="512" width="4" height="12" fill="#008000"/>
<rect x="672" y="508" width="4" height="16" fill="#008000"/>
<rect x="680" y="505" width="4" height="19" fill="#008000"/>
<rect x="688" y="500" width="4" height="24" fill="#008000"/>
<rect x="696" y="496" width="4" height="28" fill="#008000"/>
<rect x="704" y="491" width="4" height="33" fill="#008000"/>
<rect x="712" y="487" width="4" height="37" fill="#008000"/>
<rect x="720" y="489" width="4" height="35" fill="#FF0000"/>
<rect x="728" y="491" width="4" height="33" fill="#FF0000"/>
<rect x="736" y="493" width="4" height="31" fill="#FF0000"/>
<rect x="744" y="496" width="4" height="28" fill="#FF0000"/>
<rect x="752" y="497" width="4" height="27" fill="#FF0000"/>
<rect x="760" y="493" width="4" height="31" fill="#008000"/>
<rect x="768" y="490" width="4" height="34" fill="#008000"/>
<rect x="776" y="486" width="4" height="38" fill="#008000"/>
<rect x="784" y="484" width="4" height="40" fill="#008000"/>
<rect x="792" y="486" width="4" height="38" fill="#FF0000"/>
<rect x="800" y="487" width="4" height="37" fill="#FF0000"/>
<rect x="808" y="488" width="4" height="36" fill="#FF0000"/>
<rect x="816" y="489" width="4" height="35" fill="#FF0000"/>
<rect x="824" y="488" width="4" height="36" fill="#008000"/>
<rect x="832" y="485" width="4" height="39" fill="#008000"/>
<rect x="840" y="484" width="4" height="40" fill="#008000"/>
<rect x="848" y="487" width="4" height="37" fill="#FF0000"/>
<rect x="856" y="489" width="4" height="35" fill="#FF0000"/>
<rect x="864" y="492" width="4" height="32" fill="#FF0000"/>
<rect x="872" y="497" width="4" height="27" fill="#FF0000"/>
<rect x="880" y="503" width="4" height="21" fill="#FF0000"/>
<rect x="888" y="508" width="4" height="16" fill="#FF0000"/>
<rect x="896" y="513" width="4" height="11" fill="#FF0000"/>
<rect x="904" y="518" width="4" height="6" fill="#FF0000"/>
<rect x="912" y="522" width="4" height="2" fill="#FF0000"/>
<rect x="920" y="524" width="4" height="1" fill="#FF0000"/>
<rect x="928" y="524" width="4" height="1" fill="#FF0000"/>
<rect x="936" y="524" width="4" height="1" fill="#FF0000"/>
<rect x="944" y="524" width="4" height="3" fill="#FF0000"/>
<rect x="952" y="524" width="4" height="5" fill="#FF0000"/>
<rect x="960" y="524" width="4" height="6" fill="#FF0000"/>
<rect x="968" y="524" width="4" height="8" fill="#FF0000"/>
<rect x="976" y="524" width="4" height="10" fill="#FF0000"/>
<rect x="984" y="524" width="4" height="12" fill="#FF0000"/>
<rect x="992" y="524" width="4" height="15" fill="#FF0000"/>
<rect x="1000" y="524" width="4" height="18" fill="#FF0000"/>
<rect x="1008" y="524" width="4" height="25" fill="#FF0000"/>
<rect x="1016" y="524" width="4" height="30" fill="#FF0000"/>
<rect x="1024" y="524" width="4" height="36" fill="#FF0000"/>
<rect x="1032" y="524" width="4" height="40" fill="#FF0000"/>
<rect x="1040" y="524" width="4" height="42" fill="#FF0000"/>
<rect x="1048" y="524" width="4" height="40" fill="#008000"/>
<rect x="1056" y="524" width="4" height="37" fill="#008000"/>
<rect x="1064" y="524" width="4" height="30" fill="#008000"/>
<rect x="1072" y="524" width="4" height="22" fill="#008000"/>
<rect x="1080" y="524" width="4" height="16" fill="#008000"/>
<rect x="1088" y="524" width="4" height="10" fill="#008000"/>
<rect x="1096" y="524" width="4" height="6" fill="#008000"/>
</g><g clip-path="url(#cc)">
<rect x="0" y="630" width="4" height="7" fill="#FF0000"/>
<rect x="8" y="630" width="4" height="12" fill="#FF0000"/>
<rect x="16" y="630" width="4" height="12" fill="#008000"/>
<rect x="24" y="630" width="4" height="10" fill="#008000"/>
<rect x="32" y="630" width="4" height="12" fill="#FF0000"/>
<rect x="40" y="630" width="4" height="20" fill="#FF0000"/>
<rect x="48" y="630" width="4" height="22" fill="#FF0000"/>
<rect x="56" y="630" width="4" height="24" fill="#FF0000"/>
<rect x="64" y="630" width="4" height="20" fill="#008000"/>
<rect x="72" y="630" width="4" height="12" fill="#008000"/>
<rect x="80" y="624" width="4" height="6" fill="#008000"/>
<rect x="88" y="613" width="4" height="17" fill="#008000"/>
<rect x="96" y="616" width="4" height="14" fill="#FF0000"/>
<rect x="104" y="627" width="4" height="3" fill="#FF0000"/>
<rect x="112" y="630" width="4" height="8" fill="#FF0000"/>
<rect x="120" y="630" width="4" height="20" fill="#FF0000"/>
<rect x="128" y="630" width="4" height="30" fill="#FF0000"/>
<rect x="136" y="630" width="4" height="26" fill="#008000"/>
<rect x="144" y="630" width="4" height="18" fill="#008000"/>
<rect x="152" y="630" width="4" height="9" fill="#008000"/>
<rect x="160" y="626" width="4" height="4" fill="#008000"/>
<rect x="168" y="615" width="4" height="15" fill="#008000"/>
<rect x="176" y="610" width="4" height="20" fill="#008000"/>
<rect x="184" y="607" width="4" height="23" fill="#008000"/>
<rect x="192" y="609" width="4" height="21" fill="#FF0000"/>
<rect x="200" y="615" width="4" height="15" fill="#FF0000"/>
<rect x="208" y="618" width="4" height="12" fill="#FF0000"/>
<rect x="216" y="616" width="4" height="14" fill="#008000"/>
<rect x="224" y="616" width="4" height="14" fill="#FF0000"/>
<rect x="232" y="611" width="4" height="19" fill="#008000"/>
<rect x="240" y="607" width="4" height="23" fill="#008000"/>
<rect x="248" y="616" width="4" height="14" fill="#FF0000"/>
<rect x="256" y="626" width="4" height="4" fill="#FF0000"/>
<rect x="264" y="630" width="4" height="9" fill="#FF0000"/>
<rect x="272" y="630" width="4" height="18" fill="#FF0000"/>
<rect x="280" y="630" width="4" height="20" fill="#FF0000"/>
<rect x="288" y="630" width="4" height="20" fill="#FF0000"/>
<rect x="296" y="630" width="4" height="16" fill="#008000"/>
<rect x="304" y="630" width="4" height="2" fill="#008000"/>
<rect x="312" y="630" width="4" height="1" fill="#008000"/>
<rect x="320" y="630" width="4" height="2" fill="#FF0000"/>
<rect x="328" y="630" width="4" height="2" fill="#008000"/>
<rect x="336" y="630" width="4" height="1" fill="#008000"/>
<rect x="344" y="630" width="4" height="5" fill="#FF0000"/>
<rect x="352" y="630" width="4" height="5" fill="#FF0000"/>
<rect x="360" y="630" width="4" height="7" fill="#FF0000"/>
<rect x="368" y="630" width="4" height="2" fill="#008000"/>
<rect x="376" y="630" width="4" height="5" fill="#FF0000"/>
<rect x="384" y="630" width="4" height="9" fill="#FF0000"/>
<rect x="392" y="630" width="4" height="13" fill="#FF0000"/>
<rect x="400" y="630" width="4" height="11" fill="#008000"/>
<rect x="408" y="630" width="4" height="13" fill="#FF0000"/>
<rect x="416" y="630" width="4" height="8" fill="#008000"/>
<rect x="424" y="629" width="4" height="1" fill="#008000"/>
<rect x="432" y="621" width="4" height="9" fill="#008000"/>
<rect x="440" y="619" width="4" height="11" fill="#008000"/>
<rect x="448" y="619" width="4" height="11" fill="#008000"/>
<rect x="456" y="619" width="4" height="11" fill="#FF0000"/>
<rect x="464" y="626" width="4" height="4" fill="#FF0000"/>
<rect x="472" y="625" width="4" height="5" fill="#008000"/>
<rect x="480" y="622" width="4" height="8" fill="#008000"/>
<rect x="488" y="627" width="4" height="3" fill="#FF0000"/>
<rect x="496" y="630" width="4" height="9" fill="#FF0000"/>
<rect x="504" y="630" width="4" height="11" fill="#FF0000"/>
<rect x="512" y="630" width="4" height="23" fill="#FF0000"/>
<rect x="520" y="630" width="4" height="31" fill="#FF0000"/>
<rect x="528" y="630" width="4" height="30" fill="#008000"/>
<rect x="536" y="630" width="4" height="20" fill="#008000"/>
<rect x="544" y="630" width="4" height="13" fill="#008000"/>
<rect x="552" y="630" width="4" height="3" fill="#008000"/>
<rect x="560" y="625" width="4" height="5" fill="#008000"/>
<rect x="568" y="623" width="4" height="7" fill="#008000"/>
<rect x="576" y="624" width="4" height="6" fill="#FF0000"/>
<rect x="584" y="626" width="4" height="4" fill="#FF0000"/>
<rect x="592" y="627" width="4" height="3" fill="#FF0000"/>
<rect x="600" y="628" width="4" height="2" fill="#FF0000"/>
<rect x="608" y="624" width="4" height="6" fill="#008000"/>
<rect x="616" y="614" width="4" height="16" fill="#008000"/>
<rect x="624" y="607" width="4" height="23" fill="#008000"/>
<rect x="632" y="602" width="4" height="28" fill="#008000"/>
<rect x="640" y="595" width="4" height="35" fill="#008000"/>
<rect x="648" y="596" width="4" height="34" fill="#FF0000"/>
<rect x="656" y="601" width="4" height="29" fill="#FF0000"/>
<rect x="664" y="602" width="4" height="28" fill="#FF0000"/>
<rect x="672" y="605" width="4" height="25" fill="#FF0000"/>
<rect x="680" y="607" width="4" height="23" fill="#FF0000"/>
<rect x="688" y="604" width="4" height="26" fill="#008000"/>
<rect x="696" y="601" width="4" height="29" fill="#008000"/>
<rect x="704" y="599" width="4" height="31" fill="#008000"/>
<rect x="712" y="600" width="4" height="30" fill="#FF0000"/>
<rect x="720" y="618" width="4" height="12" fill="#FF0000"/>
<rect x="728" y="630" width="4" height="1" fill="#FF0000"/>
<rect x="736" y="630" width="4" height="9" fill="#FF0000"/>
<rect x="744" y="630" width="4" height="16" fill="#FF0000"/>
<rect x="752" y="630" width="4" height="14" fill="#008000"/>
<rect x="760" y="627" width="4" height="3" fill="#008000"/>
<rect x="768" y="617" width="4" height="13" fill="#008000"/>
<rect x="776" y="610" width="4" height="20" fill="#008000"/>
<rect x="784" y="611" width="4" height="19" fill="#FF0000"/>
<rect x="792" y="624" width="4" height="6" fill="#FF0000"/>
<rect x="800" y="630" width="4" height="1" fill="#FF0000"/>
<rect x="808" y="630" width="4" height="7" fill="#FF0000"/>
<rect x="816" y="630" width="4" height="7" fill="#FF0000"/>
<rect x="824" y="630" width="4" height="1" fill="#008000"/>
<rect x="832" y="623" width="4" height="7" fill="#008000"/>
<rect x="840" y="620" width="4" height="10" fill="#008000"/>
<rect x="848" y="630" width="4" height="1" fill="#FF0000"/>
<rect x="856" y="630" width="4" height="9" fill="#FF0000"/>
<rect x="864" y="630" width="4" height="18" fill="#FF0000"/>
<rect x="872" y="630" width="4" height="24" fill="#FF0000"/>
<rect x="880" y="630" width="4" height="34" fill="#FF0000"/>
<rect x="888" y="630" width="4" height="34" fill="#FF0000"/>
<rect x="896" y="630" width="4" height="35" fill="#FF0000"/>
<rect x="904" y="630" width="4" height="35" fill="#008000"/>
<rect x="912" y="630" width="4" height="31" fill="#008000"/>
<rect x="920" y="630" width="4" height="24" fill="#008000"/>
<rect x="928" y="630" width="4" height="16" fill="#008000"/>
<rect x="936" y="630" width="4" height="9" fill="#008000"/>
<rect x="944" y="630" width="4" height="9" fill="#008000"/>
<rect x="952" y="630" width="4" height="12" fill="#FF0000"/>
<rect x="960" y="630" width="4" height="11" fill="#008000"/>
<rect x="968" y="630" width="4" height="10" fill="#008000"/>
<rect x="976" y="630" width="4" height="12" fill="#FF0000"/>
<rect x="984" y="630" width="4" height="14" fill="#FF0000"/>
<rect x="992" y="630" width="4" height="17" fill="#FF0000"/>
<rect x="1000" y="630" width="4" height="21" fill="#FF0000"/>
<rect x="1008" y="630" width="4" height="31" fill="#FF0000"/>
<rect x="1016" y="630" width="4" height="37" fill="#FF0000"/>
<rect x="1024" y="630" width="4" height="38" fill="#FF0000"/>
<rect x="1032" y="630" width="4" height="35" fill="#008000"/>
<rect x="1040" y="630" width="4" height="25" fill="#008000"/>
<rect x="1048" y="630" width="4" height="10" fill="#008000"/>
<rect x="1056" y="622" width="4" height="8" fill="#008000"/>
<rect x="1064" y="602" width="4" height="28" fill="#008000"/>
<rect x="1072" y="588" width="4" height="42" fill="#008000"/>
<rect x="1080" y="586" width="4" height="44" fill="#008000"/>
<rect x="1088" y="589" width="4" height="41" fill="#FF0000"/>
<rect x="1096" y="596" width="4" height="34" fill="#FF0000"/>
</g><g clip-path="url(#cg)">
<rect x="0" y="718" width="4" height="11" fill="#FF0000"/>
<rect x="0" y="729" width="4" height="8" fill="#FF0000"/>
<rect x="8" y="718" width="4" height="11" fill="#008000"/>
<rect x="8" y="729" width="4" height="4" fill="#FF0000"/>
<rect x="16" y="719" width="4" height="10" fill="#FF0000"/>
<rect x="16" y="729" width="4" height="1" fill="#FF0000"/>
<rect x="24" y="721" width="4" height="8" fill="#FF0000"/>
<rect x="24" y="729" width="4" height="2" fill="#008000"/>
<rect x="32" y="724" width="4" height="5" fill="#FF0000"/>
<rect x="32" y="729" width="4" height="5" fill="#008000"/>
<rect x="40" y="727" width="4" height="2" fill="#FF0000"/>
<rect x="40" y="729" width="4" height="5" fill="#FF0000"/>
<rect x="48" y="728" width="4" height="1" fill="#FF0000"/>
<rect x="48" y="729" width="4" height="3" fill="#FF0000"/>
<rect x="56" y="727" width="4" height="2" fill="#008000"/>
<rect x="56" y="729" width="4" height="5" fill="#008000"/>
<rect x="64" y="728" width="4" height="1" fill="#FF0000"/>
<rect x="64" y="729" width="4" height="16" fill="#008000"/>
<rect x="72" y="727" width="4" height="2" fill="#008000"/>
<rect x="72" y="729" width="4" height="20" fill="#008000"/>
<rect x="80" y="720" width="4" height="9" fill="#008000"/>
<rect x="80" y="729" width="4" height="16" fill="#FF0000"/>
<rect x="88" y="715" width="4" height="14" fill="#008000"/>
<rect x="88" y="729" width="4" height="10" fill="#FF0000"/>
<rect x="96" y="714" width="4" height="15" fill="#008000"/>
<rect x="96" y="729" width="4" height="6" fill="#FF0000"/>
<rect x="104" y="718" width="4" height="11" fill="#FF0000"/>
<rect x="104" y="729" width="4" height="2" fill="#FF0000"/>
<rect x="112" y="721" width="4" height="8" fill="#FF0000"/>
<rect x="112" y="729" width="4" height="2" fill="#FF0000"/>
<rect x="120" y="725" width="4" height="4" fill="#FF0000"/>
<rect x="120" y="729" width="4" height="2" fill="#008000"/>
<rect x="128" y="727" width="4" height="2" fill="#FF0000"/>
<rect x="128" y="729" width="4" height="9" fill="#008000"/>
<rect x="136" y="726" width="4" height="3" fill="#008000"/>
<rect x="136" y="729" width="4" height="12" fill="#008000"/>
<rect x="144" y="722" width="4" height="7" fill="#008000"/>
<rect x="144" y="729" width="4" height="16" fill="#008000"/>
<rect x="152" y="717" width="4" height="12" fill="#008000"/>
<rect x="152" y="729" width="4" height="18" fill="#008000"/>
<rect x="160" y="714" width="4" height="15" fill="#008000"/>
<rect x="160" y="729" width="4" height="17" fill="#FF0000"/>
<rect x="168" y="712" width="4" height="17" fill="#008000"/>
<rect x="168" y="729" width="4" height="15" fill="#FF0000"/>
<rect x="176" y="711" width="4" height="18" fill="#008000"/>
<rect x="176" y="729" width="4" height="13" fill="#FF0000"/>
<rect x="184" y="711" width="4" height="18" fill="#FF0000"/>
<rect x="184" y="729" width="4" height="8" fill="#FF0000"/>
<rect x="192" y="713" width="4" height="16" fill="#FF0000"/>
<rect x="192" y="729" width="4" height="1" fill="#FF0000"/>
<rect x="200" y="716" width="4" height="13" fill="#FF0000"/>
<rect x="200" y="729" width="4" height="1" fill="#FF0000"/>
<rect x="208" y="721" width="4" height="8" fill="#FF0000"/>
<rect x="208" y="729" width="4" height="1" fill="#FF0000"/>
<rect x="216" y="723" width="4" height="6" fill="#FF0000"/>
<rect x="216" y="729" width="4" height="1" fill="#FF0000"/>
<rect x="224" y="725" width="4" height="4" fill="#FF0000"/>
<rect x="224" y="729" width="4" height="1" fill="#008000"/>
<rect x="232" y="724" width="4" height="5" fill="#008000"/>
<rect x="232" y="729" width="4" height="5" fill="#008000"/>
<rect x="240" y="724" width="4" height="5" fill="#FF0000"/>
<rect x="240" y="729" width="4" height="10" fill="#008000"/>
<rect x="248" y="728" width="4" height="1" fill="#FF0000"/>
<rect x="248" y="729" width="4" height="9" fill="#FF0000"/>
<rect x="256" y="727" width="4" height="2" fill="#008000"/>
<rect x="256" y="729" width="4" height="12" fill="#008000"/>
<rect x="264" y="724" width="4" height="5" fill="#008000"/>
<rect x="264" y="729" width="4" height="15" fill="#008000"/>
<rect x="272" y="722" width="4" height="7" fill="#008000"/>
<rect x="272" y="729" width="4" height="11" fill="#FF0000"/>
<rect x="280" y="720" width="4" height="9" fill="#008000"/>
<rect x="280" y="729" width="4" height="4" fill="#FF0000"/>
<rect x="288" y="720" width="4" height="9" fill="#FF0000"/>
<rect x="288" y="729" width="4" height="5" fill="#008000"/>
<rect x="296" y="724" width="4" height="5" fill="#FF0000"/>
<rect x="296" y="729" width="4" height="6" fill="#008000"/>
<rect x="304" y="727" width="4" height="2" fill="#FF0000"/>
<rect x="304" y="729" width="4" height="2" fill="#FF0000"/>
<rect x="312" y="725" width="4" height="4" fill="#008000"/>
<rect x="312" y="729" width="4" height="5" fill="#008000"/>
<rect x="320" y="725" width="4" height="4" fill="#FF0000"/>
<rect x="320" y="729" width="4" height="9" fill="#008000"/>
<rect x="328" y="725" width="4" height="4" fill="#008000"/>
<rect x="328" y="729" width="4" height="5" fill="#FF0000"/>
<rect x="336" y="723" width="4" height="6" fill="#008000"/>
<rect x="336" y="729" width="4" height="3" fill="#FF0000"/>
<rect x="344" y="723" width="4" height="6" fill="#FF0000"/>
<rect x="344" y="729" width="4" height="4" fill="#008000"/>
<rect x="352" y="724" width="4" height="5" fill="#FF0000"/>
<rect x="352" y="729" width="4" height="6" fill="#008000"/>
<rect x="360" y="725" width="4" height="4" fill="#FF0000"/>
<rect x="360" y="729" width="4" height="8" fill="#008000"/>
<rect x="368" y="723" width="4" height="6" fill="#008000"/>
<rect x="368" y="729" width="4" height="8" fill="#008000"/>
<rect x="376" y="722" width="4" height="7" fill="#008000"/>
<rect x="376" y="729" width="4" height="8" fill="#FF0000"/>
<rect x="384" y="721" width="4" height="8" fill="#008000"/>
<rect x="384" y="729" width="4" height="10" fill="#008000"/>
<rect x="392" y="720" width="4" height="9" fill="#008000"/>
<rect x="392" y="729" width="4" height="7" fill="#FF0000"/>
<rect x="400" y="719" width="4" height="10" fill="#008000"/>
<rect x="400" y="729" width="4" height="8" fill="#008000"/>
<rect x="408" y="720" width="4" height="9" fill="#FF0000"/>
<rect x="408" y="729" width="4" height="14" fill="#008000"/>
<rect x="416" y="719" width="4" height="10" fill="#008000"/>
<rect x="416" y="729" width="4" height="16" fill="#008000"/>
<rect x="424" y="716" width="4" height="13" fill="#008000"/>
<rect x="424" y="729" width="4" height="14" fill="#FF0000"/>
<rect x="432" y="713" width="4" height="16" fill="#008000"/>
<rect x="432" y="729" width="4" height="11" fill="#FF0000"/>
<rect x="440" y="713" width="4" height="16" fill="#008000"/>
<rect x="440" y="729" width="4" height="10" fill="#FF0000"/>
<rect x="448" y="714" width="4" height="15" fill="#FF0000"/>
<rect x="448" y="729" width="4" height="7" fill="#FF0000"/>
<rect x="456" y="715" width="4" height="14" fill="#FF0000"/>
<rect x="456" y="729" width="4" height="3" fill="#FF0000"/>
<rect x="464" y="717" width="4" height="12" fill="#FF0000"/>
<rect x="464" y="729" width="4" height="3" fill="#008000"/>
<rect x="472" y="720" width="4" height="9" fill="#FF0000"/>
<rect x="472" y="729" width="4" height="3" fill="#FF0000"/>
<rect x="480" y="721" width="4" height="8" fill="#FF0000"/>
<rect x="480" y="729" width="4" height="1" fill="#FF0000"/>
<rect x="488" y="722" width="4" height="7" fill="#FF0000"/>
<rect x="488" y="729" width="4" height="4" fill="#008000"/>
<rect x="496" y="722" width="4" height="7" fill="#FF0000"/>
<rect x="496" y="729" width="4" height="1" fill="#FF0000"/>
<rect x="504" y="722" width="4" height="7" fill="#008000"/>
<rect x="504" y="729" width="4" height="4" fill="#008000"/>
<rect x="512" y="724" width="4" height="5" fill="#FF0000"/>
<rect x="512" y="729" width="4" height="2" fill="#FF0000"/>
<rect x="520" y="725" width="4" height="4" fill="#FF0000"/>
<rect x="520" y="729" width="4" height="14" fill="#008000"/>
<rect x="528" y="725" width="4" height="4" fill="#008000"/>
<rect x="528" y="729" width="4" height="18" fill="#008000"/>
<rect x="536" y="717" width="4" height="12" fill="#008000"/>
<rect x="536" y="729" width="4" height="20" fill="#008000"/>
<rect x="544" y="712" width="4" height="17" fill="#008000"/>
<rect x="544" y="729" width="4" height="24" fill="#008000"/>
<rect x="552" y="707" width="4" height="22" fill="#008000"/>
<rect x="552" y="729" width="4" height="25" fill="#008000"/>
<rect x="560" y="705" width="4" height="24" fill="#008000"/>
<rect x="560" y="729" width="4" height="24" fill="#FF0000"/>
<rect x="568" y="702" width="4" height="27" fill="#008000"/>
<rect x="568" y="729" width="4" height="22" fill="#FF0000"/>
<rect x="576" y="702" width="4" height="27" fill="#008000"/>
<rect x="576" y="729" width="4" height="20" fill="#FF0000"/>
<rect x="584" y="702" width="4" height="27" fill="#FF0000"/>
<rect x="584" y="729" width="4" height="17" fill="#FF0000"/>
<rect x="592" y="704" width="4" height="25" fill="#FF0000"/>
<rect x="592" y="729" width="4" height="16" fill="#FF0000"/>
<rect x="600" y="706" width="4" height="23" fill="#FF0000"/>
<rect x="600" y="729" width="4" height="19" fill="#008000"/>
<rect x="608" y="706" width="4" height="23" fill="#FF0000"/>
<rect x="608" y="729" width="4" height="19" fill="#008000"/>
<rect x="616" y="705" width="4" height="24" fill="#008000"/>
<rect x="616" y="729" width="4" height="15" fill="#FF0000"/>
<rect x="624" y="704" width="4" height="25" fill="#008000"/>
<rect x="624" y="729" width="4" height="13" fill="#FF0000"/>
<rect x="632" y="705" width="4" height="24" fill="#FF0000"/>
<rect x="632" y="729" width="4" height="9" fill="#FF0000"/>
<rect x="640" y="707" width="4" height="22" fill="#FF0000"/>
<rect x="640" y="729" width="4" height="2" fill="#FF0000"/>
<rect x="648" y="710" width="4" height="19" fill="#FF0000"/>
<rect x="648" y="729" width="4" height="2" fill="#008000"/>
<rect x="656" y="715" width="4" height="14" fill="#FF0000"/>
<rect x="656" y="729" width="4" height="7" fill="#008000"/>
<rect x="664" y="719" width="4" height="10" fill="#FF0000"/>
<rect x="664" y="729" width="4" height="14" fill="#008000"/>
<rect x="672" y="724" width="4" height="5" fill="#FF0000"/>
<rect x="672" y="729" width="4" height="17" fill="#008000"/>
<rect x="680" y="728" width="4" height="1" fill="#FF0000"/>
<rect x="680" y="729" width="4" height="17" fill="#FF0000"/>
<rect x="688" y="724" width="4" height="5" fill="#008000"/>
<rect x="688" y="729" width="4" height="20" fill="#008000"/>
<rect x="696" y="721" width="4" height="8" fill="#008000"/>
<rect x="696" y="729" width="4" height="24" fill="#008000"/>
<rect x="704" y="718" width="4" height="11" fill="#008000"/>
<rect x="704" y="729" width="4" height="28" fill="#008000"/>
<rect x="712" y="714" width="4" height="15" fill="#008000"/>
<rect x="712" y="729" width="4" height="33" fill="#008000"/>
<rect x="720" y="709" width="4" height="20" fill="#008000"/>
<rect x="720" y="729" width="4" height="35" fill="#008000"/>
<rect x="728" y="704" width="4" height="25" fill="#008000"/>
<rect x="728" y="729" width="4" height="37" fill="#008000"/>
<rect x="736" y="699" width="4" height="30" fill="#008000"/>
<rect x="736" y="729" width="4" height="38" fill="#008000"/>
<rect x="744" y="696" width="4" height="33" fill="#008000"/>
<rect x="744" y="729" width="4" height="26" fill="#FF0000"/>
<rect x="752" y="693" width="4" height="36" fill="#008000"/>
<rect x="752" y="729" width="4" height="19" fill="#FF0000"/>
<rect x="760" y="699" width="4" height="30" fill="#FF0000"/>
<rect x="760" y="729" width="4" height="19" fill="#008000"/>
<rect x="768" y="702" width="4" height="27" fill="#FF0000"/>
<rect x="768" y="729" width="4" height="18" fill="#FF0000"/>
<rect x="776" y="706" width="4" height="23" fill="#FF0000"/>
<rect x="776" y="729" width="4" height="22" fill="#008000"/>
<rect x="784" y="705" width="4" height="24" fill="#008000"/>
<rect x="784" y="729" width="4" height="27" fill="#008000"/>
<rect x="792" y="702" width="4" height="27" fill="#008000"/>
<rect x="792" y="729" width="4" height="31" fill="#008000"/>
<rect x="800" y="699" width="4" height="30" fill="#008000"/>
<rect x="800" y="729" width="4" height="32" fill="#008000"/>
<rect x="808" y="694" width="4" height="35" fill="#008000"/>
<rect x="808" y="729" width="4" height="28" fill="#FF0000"/>
<rect x="816" y="692" width="4" height="37" fill="#008000"/>
<rect x="816" y="729" width="4" height="21" fill="#FF0000"/>
<rect x="824" y="692" width="4" height="37" fill="#FF0000"/>
<rect x="824" y="729" width="4" height="21" fill="#FF0000"/>
<rect x="832" y="696" width="4" height="33" fill="#FF0000"/>
<rect x="832" y="729" width="4" height="26" fill="#008000"/>
<rect x="840" y="697" width="4" height="32" fill="#FF0000"/>
<rect x="840" y="729" width="4" height="29" fill="#008000"/>
<rect x="848" y="695" width="4" height="34" fill="#008000"/>
<rect x="848" y="729" width="4" height="29" fill="#008000"/>
<rect x="856" y="692" width="4" height="37" fill="#008000"/>
<rect x="856" y="729" width="4" height="30" fill="#008000"/>
<rect x="864" y="690" width="4" height="39" fill="#008000"/>
<rect x="864" y="729" width="4" height="31" fill="#008000"/>
<rect x="872" y="689" width="4" height="40" fill="#008000"/>
<rect x="872" y="729" width="4" height="24" fill="#FF0000"/>
<rect x="880" y="688" width="4" height="41" fill="#008000"/>
<rect x="880" y="729" width="4" height="19" fill="#FF0000"/>
<rect x="888" y="691" width="4" height="38" fill="#FF0000"/>
<rect x="888" y="729" width="4" height="18" fill="#FF0000"/>
<rect x="896" y="694" width="4" height="35" fill="#FF0000"/>
<rect x="896" y="729" width="4" height="14" fill="#FF0000"/>
<rect x="904" y="698" width="4" height="31" fill="#FF0000"/>
<rect x="904" y="729" width="4" height="7" fill="#FF0000"/>
<rect x="912" y="700" width="4" height="29" fill="#FF0000"/>
<rect x="912" y="729" width="4" height="1" fill="#FF0000"/>
<rect x="920" y="705" width="4" height="24" fill="#FF0000"/>
<rect x="920" y="729" width="4" height="2" fill="#008000"/>
<rect x="928" y="711" width="4" height="18" fill="#FF0000"/>
<rect x="928" y="729" width="4" height="4" fill="#008000"/>
<rect x="936" y="715" width="4" height="14" fill="#FF0000"/>
<rect x="936" y="729" width="4" height="5" fill="#008000"/>
<rect x="944" y="718" width="4" height="11" fill="#FF0000"/>
<rect x="944" y="729" width="4" height="5" fill="#008000"/>
<rect x="952" y="720" width="4" height="9" fill="#FF0000"/>
<rect x="952" y="729" width="4" height="4" fill="#FF0000"/>
<rect x="960" y="721" width="4" height="8" fill="#FF0000"/>
<rect x="960" y="729" width="4" height="3" fill="#FF0000"/>
<rect x="968" y="722" width="4" height="7" fill="#FF0000"/>
<rect x="968" y="729" width="4" height="7" fill="#008000"/>
<rect x="976" y="722" width="4" height="7" fill="#FF0000"/>
<rect x="976" y="729" width="4" height="12" fill="#008000"/>
<rect x="984" y="725" width="4" height="4" fill="#FF0000"/>
<rect x="984" y="729" width="4" height="11" fill="#FF0000"/>
<rect x="992" y="729" width="4" height="7" fill="#FF0000"/>
<rect x="1000" y="727" width="4" height="2" fill="#008000"/>
<rect x="1000" y="729" width="4" height="9" fill="#008000"/>
<rect x="1008" y="727" width="4" height="2" fill="#FF0000"/>
<rect x="1008" y="729" width="4" height="16" fill="#008000"/>
<rect x="1016" y="727" width="4" height="2" fill="#008000"/>
<rect x="1016" y="729" width="4" height="22" fill="#008000"/>
<rect x="1024" y="722" width="4" height="7" fill="#008000"/>
<rect x="1024" y="729" width="4" height="22" fill="#008000"/>
<rect x="1032" y="716" width="4" height="13" fill="#008000"/>
<rect x="1032" y="729" width="4" height="27" fill="#008000"/>
<rect x="1040" y="712" width="4" height="17" fill="#008000"/>
<rect x="1040" y="729" width="4" height="33" fill="#008000"/>
<rect x="1048" y="708" width="4" height="21" fill="#008000"/>
<rect x="1048" y="729" width="4" height="40" fill="#008000"/>
<rect x="1056" y="703" width="4" height="26" fill="#008000"/>
<rect x="1056" y="729" width="4" height="41" fill="#008000"/>
<rect x="1064" y="695" width="4" height="34" fill="#008000"/>
<rect x="1064" y="729" width="4" height="33" fill="#FF0000"/>
<rect x="1072" y="692" width="4" height="37" fill="#008000"/>
<rect x="1072" y="729" width="4" height="25" fill="#FF0000"/>
<rect x="1080" y="693" width="4" height="36" fill="#FF0000"/>
<rect x="1080" y="729" width="4" height="17" fill="#FF0000"/>
<rect x="1088" y="698" width="4" height="31" fill="#FF0000"/>
<rect x="1088" y="729" width="4" height="8" fill="#FF0000"/>
<rect x="1096" y="704" width="4" height="25" fill="#FF0000"/>
<rect x="1096" y="729" width="4" height="2" fill="#FF0000"/>
<rect x="1104" y="711" width="4" height="18" fill="#FF0000"/>
<rect x="1104" y="729" width="4" height="2" fill="#FF0000"/>
<rect x="1112" y="716" width="4" height="13" fill="#FF0000"/>
<rect x="1112" y="729" width="4" height="4" fill="#008000"/>
<rect x="1120" y="720" width="4" height="9" fill="#FF0000"/>
<rect x="1120" y="729" width="4" height="5" fill="#008000"/>
<rect x="1128" y="723" width="4" height="6" fill="#FF0000"/>
<rect x="1136" y="725" width="4" height="4" fill="#FF0000"/>
</g>
<rect x="2" y="2" width="1226" height="1" fill="#000"/>
<rect x="2" y="473" width="1226" height="1" fill="#000"/>
<rect x="2" y="2" width="1" height="472" fill="#000"/>
<rect x="1227" y="2" width="1" height="472" fill="#000"/>
<rect x="2" y="475" width="1226" height="1" fill="#000"/>
<rect x="2" y="575" width="1226" height="1" fill="#000"/>
<rect x="2" y="475" width="1" height="101" fill="#000"/>
<rect x="1227" y="475" width="1" height="101" fill="#000"/>
<rect x="2" y="577" width="1226" height="1" fill="#000"/>
<rect x="2" y="677" width="1226" height="1" fill="#000"/>
<rect x="2" y="577" width="1" height="101" fill="#000"/>
<rect x="1227" y="577" width="1" height="101" fill="#000"/>
<rect x="2" y="679" width="1226" height="1" fill="#000"/>
<rect x="2" y="779" width="1226" height="1" fill="#000"/>
<rect x="2" y="679" width="1" height="101" fill="#000"/>
<rect x="1227" y="679" width="1" height="101" fill="#000"/>
<rect x="1228" y="9" width="4" height="1" fill="#000"/>
<rect x="1228" y="42" width="4" height="1" fill="#000"/>
<rect x="1228" y="75" width="4" height="1" fill="#000"/>
<rect x="1228" y="108" width="4" height="1" fill="#000"/>
<rect x="1228" y="142" width="4" height="1" fill="#000"/>
<rect x="1228" y="175" width="4" height="1" fill="#000"/>
<rect x="1228" y="208" width="4" height="1" fill="#000"/>
<rect x="1228" y="241" width="4" height="1" fill="#000"/>
<rect x="1228" y="274" width="4" height="1" fill="#000"/>
<rect x="1228" y="307" width="4" height="1" fill="#000"/>
<rect x="1228" y="340" width="4" height="1" fill="#000"/>
<rect x="1228" y="374" width="4" height="1" fill="#000"/>
<rect x="1228" y="407" width="4" height="1" fill="#000"/>
<rect x="1228" y="440" width="4" height="1" fill="#000"/>
<rect x="1228" y="476" width="4" height="1" fill="#000"/>
<rect x="1228" y="574" width="4" height="1" fill="#000"/>
<rect x="1228" y="578" width="4" height="1" fill="#000"/>
<rect x="1228" y="676" width="4" height="1" fill="#000"/>
<rect x="1228" y="680" width="4" height="1" fill="#000"/>
<rect x="1228" y="778" width="4" height="1" fill="#000"/>
<rect x="2" y="780" width="1" height="4" fill="#000"/>
<rect x="66" y="780" width="1" height="4" fill="#000"/>
<rect x="130" y="780" width="1" height="4" fill="#000"/>
<rect x="194" y="780" width="1" height="4" fill="#000"/>
<rect x="258" y="780" width="1" height="4" fill="#000"/>
<rect x="322" y="780" width="1" height="4" fill="#000"/>
<rect x="386" y="780" width="1" height="4" fill="#000"/>
<rect x="450" y="780" width="1" height="4" fill="#000"/>
<rect x="514" y="780" width="1" height="4" fill="#000"/>
<rect x="578" y="780" width="1" height="4" fill="#000"/>
<rect x="642" y="780" width="1" height="4" fill="#000"/>
<rect x="706" y="780" width="1" height="4" fill="#000"/>
<rect x="770" y="780" width="1" height="4" fill="#000"/>
<rect x="834" y="780" width="1" height="4" fill="#000"/>
<rect x="898" y="780" width="1" height="4" fill="#000"/>
<rect x="962" y="780" width="1" height="4" fill="#000"/>
<rect x="1026" y="780" width="1" height="4" fill="#000"/>
<rect x="1090" y="780" width="1" height="4" fill="#000"/>
<rect x="1230" y="222" width="39" height="11" fill="#C80000"/>
</g>
<text x="1233" y="13" style="fill:#000;stroke:#000" textLength="32" lengthAdjust="spacingAndGlyphs">1.35780</text>
<text x="1233" y="46" style="fill:#000;stroke:#000" textLength="32" lengthAdjust="spacingAndGlyphs">1.35685</text>
<text x="1233" y="79" style="fill:#000;stroke:#000" textLength="32" lengthAdjust="spacingAndGlyphs">1.35590</text>
<text x="1233" y="112" style="fill:#000;stroke:#000" textLength="32" lengthAdjust="spacingAndGlyphs">1.35495</text>
<text x="1233" y="146" style="fill:#000;stroke:#000" textLength="32" lengthAdjust="spacingAndGlyphs">1.35400</text>
<text x="1233" y="179" style="fill:#000;stroke:#000" textLength="32" lengthAdjust="spacingAndGlyphs">1.35305</text>
<text x="1233" y="212" style="fill:#000;stroke:#000" textLength="32" lengthAdjust="spacingAndGlyphs">1.35210</text>
<text x="1233" y="245" style="fill:#000;stroke:#000" textLength="32" lengthAdjust="spacingAndGlyphs">1.35115</text>
<text x="1233" y="278" style="fill:#000;stroke:#000" textLength="32" lengthAdjust="spacingAndGlyphs">1.35020</text>
<text x="1233" y="311" style="fill:#000;stroke:#000" textLength="32" lengthAdjust="spacingAndGlyphs">1.34925</text>
<text x="1233" y="344" style="fill:#000;stroke:#000" textLength="32" lengthAdjust="spacingAndGlyphs">1.34830</text>
<text x="1233" y="378" style="fill:#000;stroke:#000" textLength="32" lengthAdjust="spacingAndGlyphs">1.34735</text>
<text x="1233" y="411" style="fill:#000;stroke:#000" textLength="32" lengthAdjust="spacingAndGlyphs">1.34640</text>
<text x="1233" y="444" style="fill:#000;stroke:#000" textLength="32" lengthAdjust="spacingAndGlyphs">1.34545</text>
<text x="1233.5" y="231" style="fill:#fff;stroke:#fff" textLength="32" lengthAdjust="spacingAndGlyphs">1.35154</text>
<text x="1233" y="484" style="fill:#000;stroke:#000" textLength="37.5" lengthAdjust="spacingAndGlyphs">0.005069</text>
<text x="1233" y="573" style="fill:#000;stroke:#000" textLength="40.5" lengthAdjust="spacingAndGlyphs">-0.005196</text>
<text x="1233" y="586" style="fill:#000;stroke:#000" textLength="42" lengthAdjust="spacingAndGlyphs">0.0015997</text>
<text x="1233" y="675" style="fill:#000;stroke:#000" textLength="45" lengthAdjust="spacingAndGlyphs">-0.0013997</text>
<text x="1233" y="688" style="fill:#000;stroke:#000" textLength="38" lengthAdjust="spacingAndGlyphs">0.002264</text>
<text x="1233" y="777" style="fill:#000;stroke:#000" textLength="40.5" lengthAdjust="spacingAndGlyphs">-0.002270</text>
<text x="6" y="488" style="fill:#000;stroke:#000" textLength="74.5" lengthAdjust="spacingAndGlyphs">AOcust -0.000715</text>
<text x="6" y="590" style="fill:#000;stroke:#000" textLength="75.5" lengthAdjust="spacingAndGlyphs">ACcust 0.0010268</text>
<text x="6" y="692" style="fill:#000;stroke:#000" textLength="126.2" lengthAdjust="spacingAndGlyphs">GatorCust 0.000184 -0.000241</text>
<text x="2" y="792" style="fill:#000;stroke:#000" textLength="50" lengthAdjust="spacingAndGlyphs">21 Apr 2026</text>
<text x="66" y="792" style="fill:#000;stroke:#000" textLength="53.4" lengthAdjust="spacingAndGlyphs">21 Apr 14:00</text>
<text x="130" y="792" style="fill:#000;stroke:#000" textLength="53.4" lengthAdjust="spacingAndGlyphs">21 Apr 22:00</text>
<text x="194" y="792" style="fill:#000;stroke:#000" textLength="53.4" lengthAdjust="spacingAndGlyphs">22 Apr 06:00</text>
<text x="258" y="792" style="fill:#000;stroke:#000" textLength="53.4" lengthAdjust="spacingAndGlyphs">22 Apr 14:00</text>
<text x="322" y="792" style="fill:#000;stroke:#000" textLength="53.4" lengthAdjust="spacingAndGlyphs">22 Apr 22:00</text>
<text x="386" y="792" style="fill:#000;stroke:#000" textLength="53.4" lengthAdjust="spacingAndGlyphs">23 Apr 06:00</text>
<text x="450" y="792" style="fill:#000;stroke:#000" textLength="53.4" lengthAdjust="spacingAndGlyphs">23 Apr 14:00</text>
<text x="514" y="792" style="fill:#000;stroke:#000" textLength="53.4" lengthAdjust="spacingAndGlyphs">23 Apr 22:00</text>
<text x="578" y="792" style="fill:#000;stroke:#000" textLength="53.4" lengthAdjust="spacingAndGlyphs">24 Apr 06:00</text>
<text x="642" y="792" style="fill:#000;stroke:#000" textLength="53.4" lengthAdjust="spacingAndGlyphs">24 Apr 14:00</text>
<text x="706" y="792" style="fill:#000;stroke:#000" textLength="53.4" lengthAdjust="spacingAndGlyphs">24 Apr 22:00</text>
<text x="770" y="792" style="fill:#000;stroke:#000" textLength="53.4" lengthAdjust="spacingAndGlyphs">27 Apr 06:00</text>
<text x="834" y="792" style="fill:#000;stroke:#000" textLength="53.4" lengthAdjust="spacingAndGlyphs">27 Apr 14:00</text>
<text x="898" y="792" style="fill:#000;stroke:#000" textLength="53.4" lengthAdjust="spacingAndGlyphs">27 Apr 22:00</text>
<text x="962" y="792" style="fill:#000;stroke:#000" textLength="53.4" lengthAdjust="spacingAndGlyphs">28 Apr 06:00</text>
<text x="1026" y="792" style="fill:#000;stroke:#000" textLength="53.4" lengthAdjust="spacingAndGlyphs">28 Apr 14:00</text>
<text x="1090" y="792" style="fill:#000;stroke:#000" textLength="53.4" lengthAdjust="spacingAndGlyphs">28 Apr 22:00</text>
</svg></body></html>
